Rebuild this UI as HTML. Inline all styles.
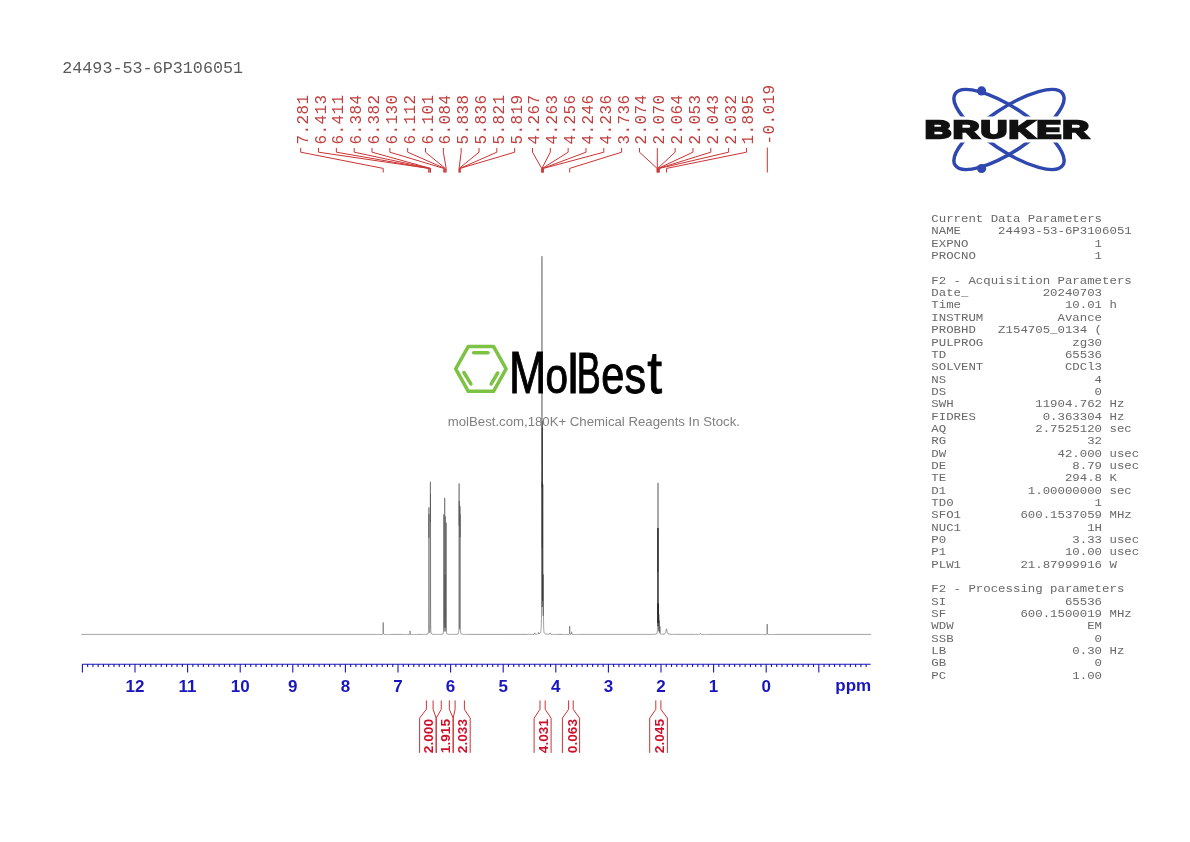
<!DOCTYPE html>
<html><head><meta charset="utf-8"><title>24493-53-6P3106051</title>
<style>
html,body{margin:0;padding:0;background:#fff;}
body{width:1190px;height:842px;overflow:hidden;position:relative;}
svg{position:absolute;left:0;top:0;will-change:transform;}
.mono{font-family:"Liberation Mono",monospace;}
.sans{font-family:"Liberation Sans",sans-serif;}
.pre{white-space:pre;}
</style></head><body>
<svg width="1190" height="842" viewBox="0 0 1190 842">

<text class="mono" x="62.2" y="73.3" font-size="16.75" fill="#5a5a5a">24493-53-6P3106051</text>
<g class="mono" font-size="16.0" fill="#c04040" letter-spacing="0.4">
<text transform="translate(307.70,144.5) rotate(-90)">7.281</text>
<text transform="translate(325.53,144.5) rotate(-90)">6.413</text>
<text transform="translate(343.36,144.5) rotate(-90)">6.411</text>
<text transform="translate(361.19,144.5) rotate(-90)">6.384</text>
<text transform="translate(379.02,144.5) rotate(-90)">6.382</text>
<text transform="translate(396.85,144.5) rotate(-90)">6.130</text>
<text transform="translate(414.68,144.5) rotate(-90)">6.112</text>
<text transform="translate(432.51,144.5) rotate(-90)">6.101</text>
<text transform="translate(450.34,144.5) rotate(-90)">6.084</text>
<text transform="translate(468.17,144.5) rotate(-90)">5.838</text>
<text transform="translate(486.00,144.5) rotate(-90)">5.836</text>
<text transform="translate(503.83,144.5) rotate(-90)">5.821</text>
<text transform="translate(521.66,144.5) rotate(-90)">5.819</text>
<text transform="translate(539.49,144.5) rotate(-90)">4.267</text>
<text transform="translate(557.32,144.5) rotate(-90)">4.263</text>
<text transform="translate(575.15,144.5) rotate(-90)">4.256</text>
<text transform="translate(592.98,144.5) rotate(-90)">4.246</text>
<text transform="translate(610.81,144.5) rotate(-90)">4.236</text>
<text transform="translate(628.64,144.5) rotate(-90)">3.736</text>
<text transform="translate(646.47,144.5) rotate(-90)">2.074</text>
<text transform="translate(664.30,144.5) rotate(-90)">2.070</text>
<text transform="translate(682.13,144.5) rotate(-90)">2.064</text>
<text transform="translate(699.96,144.5) rotate(-90)">2.053</text>
<text transform="translate(717.79,144.5) rotate(-90)">2.043</text>
<text transform="translate(735.62,144.5) rotate(-90)">2.032</text>
<text transform="translate(753.45,144.5) rotate(-90)">1.895</text>
<text transform="translate(774.30,144.5) rotate(-90)">-0.019</text>
</g>
<path d="M300.70 148V152.2L383.22 168.4V172.5 M318.53 148V152.2L428.88 168.4V172.5 M336.36 148V152.2L428.98 168.4V172.5 M354.19 148V152.2L430.40 168.4V172.5 M372.02 148V152.2L430.51 168.4V172.5 M389.85 148V152.2L443.76 168.4V172.5 M407.68 148V152.2L444.71 168.4V172.5 M425.51 148V152.2L445.29 168.4V172.5 M443.34 148V152.2L446.18 168.4V172.5 M461.17 148V152.2L459.12 168.4V172.5 M479.00 148V152.2L459.23 168.4V172.5 M496.83 148V152.2L460.02 168.4V172.5 M514.66 148V152.2L460.12 168.4V172.5 M532.49 148V152.2L541.76 168.4V172.5 M550.32 148V152.2L541.97 168.4V172.5 M568.15 148V152.2L542.33 168.4V172.5 M585.98 148V152.2L542.86 168.4V172.5 M603.81 148V152.2L543.39 168.4V172.5 M621.64 148V152.2L569.69 168.4V172.5 M639.47 148V152.2L657.11 168.4V172.5 M657.30 148V152.2L657.32 168.4V172.5 M675.13 148V152.2L657.63 168.4V172.5 M692.96 148V152.2L658.21 168.4V172.5 M710.79 148V152.2L658.74 168.4V172.5 M728.62 148V152.2L659.32 168.4V172.5 M746.45 148V152.2L666.52 168.4V172.5 M767.3 147.6V172.5" fill="none" stroke="#cc3333" stroke-width="1"/>
<path d="M81.300 634.40 L82.300 634.40 L83.300 634.40 L84.300 634.40 L85.300 634.40 L86.300 634.40 L87.300 634.40 L88.300 634.40 L89.300 634.40 L90.300 634.40 L91.300 634.40 L92.300 634.40 L93.300 634.40 L94.300 634.40 L95.300 634.40 L96.300 634.40 L97.300 634.40 L98.300 634.40 L99.300 634.40 L100.300 634.40 L101.300 634.40 L102.300 634.40 L103.300 634.40 L104.300 634.40 L105.300 634.40 L106.300 634.40 L107.300 634.40 L108.300 634.40 L109.300 634.40 L110.300 634.40 L111.300 634.40 L112.300 634.40 L113.300 634.40 L114.300 634.40 L115.300 634.40 L116.300 634.40 L117.300 634.40 L118.300 634.40 L119.300 634.40 L120.300 634.40 L121.300 634.40 L122.300 634.40 L123.300 634.40 L124.300 634.40 L125.300 634.40 L126.300 634.40 L127.300 634.40 L128.300 634.40 L129.300 634.40 L130.300 634.40 L131.300 634.40 L132.300 634.40 L133.300 634.40 L134.300 634.40 L135.300 634.40 L136.300 634.40 L137.300 634.40 L138.300 634.40 L139.300 634.40 L140.300 634.40 L141.300 634.40 L142.300 634.40 L143.300 634.40 L144.300 634.40 L145.300 634.40 L146.300 634.40 L147.300 634.40 L148.300 634.40 L149.300 634.40 L150.300 634.40 L151.300 634.40 L152.300 634.40 L153.300 634.40 L154.300 634.40 L155.300 634.40 L156.300 634.40 L157.300 634.40 L158.300 634.40 L159.300 634.40 L160.300 634.40 L161.300 634.40 L162.300 634.40 L163.300 634.40 L164.300 634.40 L165.300 634.40 L166.300 634.40 L167.300 634.40 L168.300 634.40 L169.300 634.40 L170.300 634.40 L171.300 634.40 L172.300 634.40 L173.300 634.40 L174.300 634.40 L175.300 634.40 L176.300 634.40 L177.300 634.40 L178.300 634.40 L179.300 634.40 L180.300 634.40 L181.300 634.40 L182.300 634.40 L183.300 634.40 L184.300 634.40 L185.300 634.40 L186.300 634.40 L187.300 634.40 L188.300 634.40 L189.300 634.40 L190.300 634.40 L191.300 634.40 L192.300 634.40 L193.300 634.40 L194.300 634.40 L195.300 634.40 L196.300 634.40 L197.300 634.40 L198.300 634.40 L199.300 634.40 L200.300 634.40 L201.300 634.40 L202.300 634.40 L203.300 634.40 L204.300 634.40 L205.300 634.40 L206.300 634.40 L207.300 634.40 L208.300 634.40 L209.300 634.40 L210.300 634.40 L211.300 634.40 L212.300 634.40 L213.300 634.40 L214.300 634.40 L215.300 634.40 L216.300 634.40 L217.300 634.40 L218.300 634.40 L219.300 634.40 L220.300 634.40 L221.300 634.40 L222.300 634.40 L223.300 634.40 L224.300 634.40 L225.300 634.40 L226.300 634.40 L227.300 634.40 L228.300 634.40 L229.300 634.40 L230.300 634.40 L231.300 634.40 L232.300 634.40 L233.300 634.40 L234.300 634.40 L235.300 634.40 L236.300 634.40 L237.300 634.40 L238.300 634.40 L239.300 634.40 L240.300 634.40 L241.300 634.40 L242.300 634.40 L243.300 634.40 L244.300 634.40 L245.300 634.40 L246.300 634.40 L247.300 634.40 L248.300 634.40 L249.300 634.40 L250.300 634.40 L251.300 634.40 L252.300 634.40 L253.300 634.40 L254.300 634.40 L255.300 634.40 L256.300 634.40 L257.300 634.40 L258.300 634.40 L259.300 634.40 L260.300 634.40 L261.300 634.40 L262.300 634.40 L263.300 634.40 L264.300 634.40 L265.300 634.40 L266.300 634.40 L267.300 634.40 L268.300 634.40 L269.300 634.40 L270.300 634.40 L271.300 634.40 L272.300 634.40 L273.300 634.40 L274.300 634.40 L275.300 634.40 L276.300 634.40 L277.300 634.40 L278.300 634.40 L279.300 634.40 L280.300 634.40 L281.300 634.40 L282.300 634.40 L283.300 634.40 L284.300 634.40 L285.300 634.40 L286.300 634.40 L287.300 634.40 L288.300 634.40 L289.300 634.40 L290.300 634.40 L291.300 634.40 L292.300 634.40 L293.300 634.40 L294.300 634.40 L295.300 634.40 L296.300 634.40 L297.300 634.40 L298.300 634.40 L299.300 634.40 L300.300 634.40 L301.300 634.40 L302.300 634.40 L303.300 634.40 L304.300 634.40 L305.300 634.40 L306.300 634.40 L307.300 634.40 L308.300 634.40 L309.300 634.40 L310.300 634.40 L311.300 634.40 L312.300 634.40 L313.300 634.40 L314.300 634.40 L315.300 634.40 L316.300 634.40 L317.300 634.40 L318.300 634.40 L319.300 634.40 L320.300 634.40 L321.300 634.40 L322.300 634.40 L323.300 634.40 L324.300 634.40 L325.300 634.40 L326.300 634.40 L327.300 634.40 L328.300 634.40 L329.300 634.40 L330.300 634.40 L331.300 634.40 L332.300 634.40 L333.300 634.40 L334.300 634.40 L335.300 634.40 L336.300 634.40 L337.300 634.40 L338.300 634.40 L339.300 634.40 L340.300 634.40 L341.300 634.40 L342.300 634.40 L343.300 634.40 L344.300 634.40 L345.300 634.40 L346.300 634.40 L347.300 634.40 L348.300 634.40 L349.300 634.40 L350.300 634.40 L351.300 634.40 L352.300 634.40 L353.300 634.40 L354.300 634.40 L355.300 634.40 L356.300 634.40 L357.300 634.40 L358.300 634.40 L359.300 634.40 L360.300 634.40 L361.300 634.40 L362.300 634.40 L363.300 634.40 L364.300 634.40 L365.300 634.40 L366.300 634.40 L367.300 634.40 L368.300 634.40 L369.300 634.40 L370.300 634.40 L371.300 634.40 L372.300 634.40 L373.300 634.40 L374.300 634.40 L375.300 634.40 L376.300 634.40 L376.400 634.40 L376.500 634.40 L376.600 634.40 L376.700 634.40 L376.800 634.40 L376.900 634.40 L377.000 634.40 L377.100 634.40 L377.200 634.40 L377.300 634.40 L377.400 634.40 L377.500 634.40 L377.600 634.40 L377.700 634.40 L377.800 634.40 L377.900 634.40 L378.000 634.40 L378.100 634.40 L378.200 634.40 L378.300 634.40 L378.400 634.40 L378.500 634.40 L378.600 634.40 L378.700 634.40 L378.800 634.40 L378.900 634.40 L379.000 634.40 L379.100 634.40 L379.200 634.40 L379.300 634.40 L379.400 634.40 L379.500 634.40 L379.600 634.40 L379.700 634.40 L379.800 634.39 L379.900 634.39 L380.000 634.39 L380.100 634.39 L380.200 634.39 L380.300 634.39 L380.400 634.39 L380.500 634.39 L380.600 634.39 L380.700 634.39 L380.800 634.39 L380.900 634.39 L381.000 634.39 L381.100 634.39 L381.200 634.39 L381.300 634.39 L381.400 634.38 L381.500 634.38 L381.600 634.38 L381.700 634.38 L381.720 634.38 L381.740 634.38 L381.760 634.38 L381.780 634.38 L381.800 634.38 L381.820 634.37 L381.840 634.37 L381.860 634.37 L381.880 634.37 L381.900 634.37 L381.920 634.37 L381.940 634.37 L381.960 634.37 L381.980 634.37 L382.000 634.37 L382.020 634.37 L382.040 634.36 L382.060 634.36 L382.080 634.36 L382.100 634.36 L382.120 634.36 L382.140 634.36 L382.160 634.36 L382.180 634.35 L382.200 634.35 L382.220 634.35 L382.240 634.35 L382.260 634.35 L382.280 634.34 L382.300 634.34 L382.320 634.34 L382.340 634.34 L382.360 634.33 L382.380 634.33 L382.400 634.33 L382.420 634.32 L382.440 634.32 L382.460 634.32 L382.480 634.31 L382.500 634.31 L382.520 634.30 L382.540 634.30 L382.560 634.29 L382.580 634.28 L382.600 634.28 L382.620 634.27 L382.640 634.26 L382.660 634.25 L382.680 634.24 L382.700 634.22 L382.720 634.21 L382.740 634.19 L382.760 634.18 L382.780 634.16 L382.800 634.13 L382.820 634.11 L382.840 634.08 L382.860 634.04 L382.880 634.00 L382.900 633.95 L382.920 633.89 L382.940 633.82 L382.960 633.73 L382.980 633.62 L383.000 633.48 L383.020 633.31 L383.040 633.08 L383.060 632.77 L383.080 632.36 L383.100 631.78 L383.120 630.95 L383.140 629.75 L383.160 628.04 L383.180 625.76 L383.200 623.44 L383.219 622.40 L383.220 622.40 L383.240 623.55 L383.260 625.91 L383.280 628.16 L383.300 629.84 L383.320 631.01 L383.340 631.82 L383.360 632.39 L383.380 632.79 L383.400 633.09 L383.420 633.32 L383.440 633.49 L383.460 633.63 L383.480 633.73 L383.500 633.82 L383.520 633.89 L383.540 633.95 L383.560 634.00 L383.580 634.04 L383.600 634.08 L383.620 634.11 L383.640 634.13 L383.660 634.16 L383.680 634.18 L383.700 634.20 L383.720 634.21 L383.740 634.22 L383.760 634.24 L383.780 634.25 L383.800 634.26 L383.820 634.27 L383.840 634.28 L383.860 634.28 L383.880 634.29 L383.900 634.30 L383.920 634.30 L383.940 634.31 L383.960 634.31 L383.980 634.32 L384.000 634.32 L384.020 634.32 L384.040 634.33 L384.060 634.33 L384.080 634.33 L384.100 634.34 L384.120 634.34 L384.140 634.34 L384.160 634.34 L384.180 634.35 L384.200 634.35 L384.220 634.35 L384.240 634.35 L384.260 634.35 L384.280 634.36 L384.300 634.36 L384.320 634.36 L384.340 634.36 L384.360 634.36 L384.380 634.36 L384.400 634.36 L384.420 634.37 L384.440 634.37 L384.460 634.37 L384.480 634.37 L384.500 634.37 L384.520 634.37 L384.540 634.37 L384.560 634.37 L384.580 634.37 L384.600 634.37 L384.620 634.37 L384.640 634.38 L384.660 634.38 L384.680 634.38 L384.700 634.38 L384.720 634.38 L384.740 634.38 L384.760 634.38 L384.780 634.38 L384.800 634.38 L384.900 634.38 L385.000 634.38 L385.100 634.39 L385.200 634.39 L385.300 634.39 L385.400 634.39 L385.500 634.39 L385.600 634.39 L385.700 634.39 L385.800 634.39 L385.900 634.39 L386.000 634.39 L386.100 634.39 L386.200 634.39 L386.300 634.39 L386.400 634.39 L386.500 634.39 L386.600 634.39 L386.700 634.39 L386.800 634.39 L386.900 634.40 L387.000 634.40 L387.100 634.40 L387.200 634.40 L387.300 634.40 L387.400 634.40 L387.500 634.40 L387.600 634.40 L387.700 634.40 L387.800 634.40 L387.900 634.40 L388.000 634.40 L388.100 634.40 L388.200 634.40 L388.300 634.40 L388.400 634.40 L388.500 634.40 L388.600 634.40 L388.700 634.40 L388.800 634.40 L388.900 634.40 L389.000 634.40 L389.100 634.40 L389.200 634.40 L389.300 634.40 L389.400 634.40 L389.500 634.40 L389.600 634.40 L389.700 634.40 L389.800 634.40 L389.900 634.40 L390.000 634.40 L390.100 634.40 L390.200 634.40 L390.300 634.40 L390.400 634.40 L390.500 634.40 L390.600 634.40 L390.700 634.40 L390.800 634.40 L390.900 634.40 L391.000 634.40 L391.100 634.40 L391.200 634.40 L392.200 634.40 L393.200 634.40 L394.200 634.40 L395.200 634.40 L396.200 634.40 L397.200 634.40 L398.200 634.40 L399.200 634.40 L400.200 634.40 L401.200 634.40 L402.200 634.40 L403.200 634.40 L403.300 634.40 L403.400 634.40 L403.500 634.40 L403.600 634.40 L403.700 634.40 L403.800 634.40 L403.900 634.40 L404.000 634.40 L404.100 634.40 L404.200 634.40 L404.300 634.40 L404.400 634.40 L404.500 634.40 L404.600 634.40 L404.700 634.40 L404.800 634.40 L404.900 634.40 L405.000 634.40 L405.100 634.40 L405.200 634.40 L405.300 634.40 L405.400 634.40 L405.500 634.40 L405.600 634.40 L405.700 634.40 L405.800 634.40 L405.900 634.40 L406.000 634.40 L406.100 634.40 L406.200 634.40 L406.300 634.40 L406.400 634.39 L406.500 634.39 L406.600 634.39 L406.700 634.39 L406.800 634.39 L406.900 634.39 L407.000 634.39 L407.100 634.39 L407.200 634.39 L407.300 634.39 L407.400 634.39 L407.500 634.39 L407.600 634.39 L407.700 634.39 L407.800 634.39 L407.900 634.39 L408.000 634.39 L408.100 634.39 L408.200 634.39 L408.300 634.39 L408.400 634.39 L408.500 634.39 L408.600 634.39 L408.620 634.39 L408.640 634.39 L408.660 634.39 L408.680 634.39 L408.700 634.38 L408.720 634.38 L408.740 634.38 L408.760 634.38 L408.780 634.38 L408.800 634.38 L408.820 634.38 L408.840 634.38 L408.860 634.38 L408.880 634.38 L408.900 634.38 L408.920 634.38 L408.940 634.38 L408.960 634.38 L408.980 634.38 L409.000 634.38 L409.020 634.38 L409.040 634.38 L409.060 634.38 L409.080 634.38 L409.100 634.37 L409.120 634.37 L409.140 634.37 L409.160 634.37 L409.180 634.37 L409.200 634.37 L409.220 634.37 L409.240 634.37 L409.260 634.37 L409.280 634.36 L409.300 634.36 L409.320 634.36 L409.340 634.36 L409.360 634.36 L409.380 634.35 L409.400 634.35 L409.420 634.35 L409.440 634.35 L409.460 634.34 L409.480 634.34 L409.500 634.34 L409.520 634.33 L409.540 634.33 L409.560 634.32 L409.580 634.32 L409.600 634.31 L409.620 634.30 L409.640 634.29 L409.660 634.29 L409.680 634.28 L409.700 634.26 L409.720 634.25 L409.740 634.23 L409.760 634.22 L409.780 634.19 L409.800 634.17 L409.820 634.14 L409.840 634.10 L409.860 634.05 L409.880 633.99 L409.900 633.92 L409.920 633.82 L409.940 633.70 L409.960 633.53 L409.980 633.32 L410.000 633.02 L410.020 632.63 L410.040 632.13 L410.060 631.56 L410.080 631.07 L410.098 630.90 L410.100 630.90 L410.120 631.15 L410.140 631.67 L410.160 632.23 L410.180 632.72 L410.200 633.09 L410.220 633.36 L410.240 633.57 L410.260 633.73 L410.280 633.84 L410.300 633.93 L410.320 634.00 L410.340 634.06 L410.360 634.10 L410.380 634.14 L410.400 634.17 L410.420 634.20 L410.440 634.22 L410.460 634.24 L410.480 634.25 L410.500 634.27 L410.520 634.28 L410.540 634.29 L410.560 634.30 L410.580 634.30 L410.600 634.31 L410.620 634.32 L410.640 634.32 L410.660 634.33 L410.680 634.33 L410.700 634.34 L410.720 634.34 L410.740 634.34 L410.760 634.35 L410.780 634.35 L410.800 634.35 L410.820 634.35 L410.840 634.36 L410.860 634.36 L410.880 634.36 L410.900 634.36 L410.920 634.36 L410.940 634.36 L410.960 634.37 L410.980 634.37 L411.000 634.37 L411.020 634.37 L411.040 634.37 L411.060 634.37 L411.080 634.37 L411.100 634.37 L411.120 634.37 L411.140 634.38 L411.160 634.38 L411.180 634.38 L411.200 634.38 L411.220 634.38 L411.240 634.38 L411.260 634.38 L411.280 634.38 L411.300 634.38 L411.320 634.38 L411.340 634.38 L411.360 634.38 L411.380 634.38 L411.400 634.38 L411.420 634.38 L411.440 634.38 L411.460 634.38 L411.480 634.38 L411.500 634.38 L411.520 634.38 L411.540 634.38 L411.560 634.38 L411.580 634.39 L411.600 634.39 L411.620 634.39 L411.640 634.39 L411.660 634.39 L411.680 634.39 L411.780 634.39 L411.880 634.39 L411.980 634.39 L412.080 634.39 L412.180 634.39 L412.280 634.39 L412.380 634.39 L412.480 634.39 L412.580 634.39 L412.680 634.39 L412.780 634.39 L412.880 634.39 L412.980 634.39 L413.080 634.39 L413.180 634.39 L413.280 634.39 L413.380 634.39 L413.480 634.39 L413.580 634.39 L413.680 634.39 L413.780 634.39 L413.880 634.39 L413.980 634.39 L414.080 634.39 L414.180 634.39 L414.280 634.39 L414.380 634.39 L414.480 634.39 L414.580 634.39 L414.680 634.39 L414.780 634.39 L414.880 634.39 L414.980 634.39 L415.080 634.39 L415.180 634.39 L415.280 634.39 L415.380 634.39 L415.480 634.39 L415.580 634.39 L415.680 634.39 L415.780 634.39 L415.880 634.39 L415.980 634.39 L416.080 634.39 L416.180 634.39 L416.280 634.39 L416.380 634.39 L416.480 634.39 L416.580 634.39 L416.680 634.39 L416.780 634.39 L416.880 634.39 L416.980 634.39 L417.080 634.39 L417.180 634.39 L417.280 634.39 L417.380 634.39 L417.480 634.39 L417.580 634.39 L417.680 634.39 L417.780 634.39 L417.880 634.39 L417.980 634.39 L418.080 634.39 L419.080 634.39 L420.080 634.39 L421.080 634.38 L421.180 634.38 L421.280 634.38 L421.380 634.38 L421.480 634.38 L421.580 634.38 L421.680 634.38 L421.780 634.38 L421.880 634.38 L421.980 634.38 L422.080 634.38 L422.180 634.38 L422.280 634.38 L422.380 634.38 L422.480 634.38 L422.580 634.38 L422.680 634.38 L422.780 634.37 L422.880 634.37 L422.980 634.37 L423.080 634.37 L423.180 634.37 L423.280 634.37 L423.380 634.37 L423.480 634.37 L423.580 634.37 L423.680 634.37 L423.780 634.37 L423.880 634.36 L423.980 634.36 L424.080 634.36 L424.180 634.36 L424.280 634.36 L424.380 634.36 L424.480 634.36 L424.580 634.35 L424.680 634.35 L424.780 634.35 L424.880 634.35 L424.980 634.35 L425.080 634.34 L425.180 634.34 L425.280 634.34 L425.380 634.34 L425.480 634.33 L425.580 634.33 L425.680 634.33 L425.780 634.32 L425.880 634.32 L425.980 634.31 L426.080 634.31 L426.180 634.30 L426.280 634.30 L426.380 634.29 L426.480 634.28 L426.580 634.27 L426.680 634.26 L426.780 634.25 L426.880 634.24 L426.980 634.22 L427.080 634.21 L427.180 634.19 L427.280 634.16 L427.380 634.14 L427.400 634.13 L427.420 634.13 L427.440 634.12 L427.460 634.11 L427.480 634.11 L427.500 634.10 L427.520 634.09 L427.540 634.08 L427.560 634.07 L427.580 634.07 L427.600 634.06 L427.620 634.05 L427.640 634.04 L427.660 634.03 L427.680 634.02 L427.700 634.01 L427.720 633.99 L427.740 633.98 L427.760 633.97 L427.780 633.96 L427.800 633.94 L427.820 633.93 L427.840 633.91 L427.860 633.89 L427.880 633.88 L427.900 633.86 L427.920 633.84 L427.940 633.82 L427.960 633.80 L427.980 633.77 L428.000 633.75 L428.020 633.72 L428.040 633.69 L428.060 633.66 L428.080 633.63 L428.100 633.60 L428.120 633.56 L428.140 633.52 L428.160 633.48 L428.180 633.43 L428.200 633.38 L428.220 633.33 L428.240 633.27 L428.260 633.20 L428.280 633.13 L428.300 633.05 L428.320 632.97 L428.340 632.87 L428.360 632.77 L428.380 632.65 L428.400 632.52 L428.420 632.38 L428.440 632.21 L428.460 632.03 L428.480 631.82 L428.500 631.57 L428.520 631.29 L428.540 630.96 L428.560 630.58 L428.580 630.12 L428.600 629.57 L428.620 628.91 L428.640 628.09 L428.660 627.07 L428.680 625.76 L428.700 624.06 L428.720 621.79 L428.740 618.67 L428.760 614.21 L428.780 607.58 L428.800 597.29 L428.820 580.79 L428.840 554.99 L428.860 522.95 L428.876 507.86 L428.880 507.43 L428.900 521.30 L428.920 537.49 L428.940 537.92 L428.960 523.56 L428.980 514.08 L428.981 514.29 L429.000 532.41 L429.020 562.57 L429.040 585.67 L429.060 600.33 L429.080 609.52 L429.100 615.48 L429.120 619.52 L429.140 622.37 L429.160 624.45 L429.180 626.01 L429.200 627.21 L429.220 628.15 L429.240 628.90 L429.260 629.52 L429.280 630.02 L429.300 630.43 L429.320 630.78 L429.340 631.07 L429.360 631.32 L429.380 631.54 L429.400 631.72 L429.420 631.87 L429.440 632.01 L429.460 632.12 L429.480 632.22 L429.500 632.31 L429.520 632.38 L429.540 632.44 L429.560 632.49 L429.580 632.53 L429.600 632.56 L429.620 632.58 L429.640 632.59 L429.660 632.60 L429.680 632.60 L429.700 632.59 L429.720 632.58 L429.740 632.55 L429.760 632.52 L429.780 632.48 L429.800 632.43 L429.820 632.37 L429.840 632.30 L429.860 632.22 L429.880 632.12 L429.900 632.01 L429.920 631.88 L429.940 631.74 L429.960 631.57 L429.980 631.37 L430.000 631.15 L430.020 630.89 L430.040 630.58 L430.060 630.22 L430.080 629.80 L430.100 629.29 L430.120 628.68 L430.140 627.94 L430.160 627.03 L430.180 625.89 L430.200 624.44 L430.220 622.56 L430.240 620.05 L430.260 616.63 L430.280 611.78 L430.300 604.64 L430.320 593.67 L430.340 576.17 L430.360 548.28 L430.380 510.05 L430.400 482.44 L430.402 481.68 L430.420 492.06 L430.440 514.94 L430.460 522.20 L430.480 509.81 L430.500 494.18 L430.507 494.47 L430.520 506.93 L430.540 541.58 L430.560 571.43 L430.580 590.85 L430.600 602.99 L430.620 610.79 L430.640 616.03 L430.660 619.69 L430.680 622.35 L430.700 624.33 L430.720 625.86 L430.740 627.05 L430.760 628.01 L430.780 628.79 L430.800 629.43 L430.820 629.96 L430.840 630.41 L430.860 630.79 L430.880 631.12 L430.900 631.41 L430.920 631.66 L430.940 631.87 L430.960 632.06 L430.980 632.23 L431.000 632.39 L431.020 632.52 L431.040 632.64 L431.060 632.75 L431.080 632.85 L431.100 632.94 L431.120 633.02 L431.140 633.10 L431.160 633.17 L431.180 633.23 L431.200 633.29 L431.220 633.35 L431.240 633.39 L431.260 633.44 L431.280 633.48 L431.300 633.52 L431.320 633.56 L431.340 633.60 L431.360 633.63 L431.380 633.66 L431.400 633.69 L431.420 633.72 L431.440 633.74 L431.460 633.76 L431.480 633.79 L431.500 633.81 L431.520 633.83 L431.540 633.85 L431.560 633.87 L431.580 633.88 L431.600 633.90 L431.620 633.91 L431.640 633.93 L431.660 633.94 L431.680 633.96 L431.700 633.97 L431.720 633.98 L431.740 633.99 L431.760 634.00 L431.780 634.02 L431.800 634.03 L431.820 634.04 L431.840 634.04 L431.860 634.05 L431.880 634.06 L431.900 634.07 L431.920 634.08 L431.940 634.09 L431.960 634.09 L431.980 634.10 L432.000 634.11 L432.020 634.11 L432.040 634.12 L432.060 634.13 L432.080 634.13 L432.100 634.14 L432.200 634.16 L432.300 634.19 L432.400 634.20 L432.500 634.22 L432.600 634.23 L432.700 634.25 L432.800 634.26 L432.900 634.27 L433.000 634.28 L433.100 634.28 L433.200 634.29 L433.300 634.30 L433.400 634.30 L433.500 634.31 L433.600 634.31 L433.700 634.32 L433.800 634.32 L433.900 634.32 L434.000 634.33 L434.100 634.33 L434.200 634.33 L434.300 634.33 L434.400 634.34 L434.500 634.34 L434.600 634.34 L434.700 634.34 L434.800 634.34 L434.900 634.35 L435.000 634.35 L435.100 634.35 L435.200 634.35 L435.300 634.35 L435.400 634.35 L435.500 634.35 L435.600 634.35 L435.700 634.35 L435.800 634.35 L435.900 634.36 L436.000 634.36 L436.100 634.36 L436.200 634.36 L436.300 634.36 L436.400 634.36 L436.500 634.36 L436.600 634.36 L436.700 634.36 L436.800 634.36 L436.900 634.36 L437.000 634.36 L437.100 634.36 L437.200 634.36 L437.300 634.36 L437.400 634.36 L437.500 634.36 L437.600 634.36 L437.700 634.36 L437.800 634.36 L437.900 634.36 L438.000 634.36 L438.100 634.36 L438.200 634.36 L438.300 634.36 L438.400 634.36 L438.500 634.36 L438.600 634.36 L438.700 634.35 L438.800 634.35 L438.900 634.35 L439.000 634.35 L439.100 634.35 L439.200 634.35 L439.300 634.35 L439.400 634.35 L439.500 634.35 L439.600 634.35 L439.700 634.34 L439.800 634.34 L439.900 634.34 L440.000 634.34 L440.100 634.34 L440.200 634.33 L440.300 634.33 L440.400 634.33 L440.500 634.33 L440.600 634.32 L440.700 634.32 L440.800 634.32 L440.900 634.31 L441.000 634.31 L441.100 634.30 L441.200 634.30 L441.300 634.29 L441.400 634.28 L441.500 634.28 L441.600 634.27 L441.700 634.26 L441.800 634.25 L441.900 634.24 L442.000 634.22 L442.100 634.21 L442.200 634.19 L442.220 634.18 L442.240 634.18 L442.260 634.18 L442.280 634.17 L442.300 634.17 L442.320 634.16 L442.340 634.16 L442.360 634.15 L442.380 634.15 L442.400 634.14 L442.420 634.13 L442.440 634.13 L442.460 634.12 L442.480 634.11 L442.500 634.11 L442.520 634.10 L442.540 634.09 L442.560 634.08 L442.580 634.08 L442.600 634.07 L442.620 634.06 L442.640 634.05 L442.660 634.04 L442.680 634.03 L442.700 634.02 L442.720 634.01 L442.740 633.99 L442.760 633.98 L442.780 633.97 L442.800 633.95 L442.820 633.94 L442.840 633.92 L442.860 633.91 L442.880 633.89 L442.900 633.87 L442.920 633.85 L442.940 633.83 L442.960 633.80 L442.980 633.78 L443.000 633.75 L443.020 633.72 L443.040 633.69 L443.060 633.66 L443.080 633.62 L443.100 633.58 L443.120 633.54 L443.140 633.49 L443.160 633.44 L443.180 633.39 L443.200 633.33 L443.220 633.26 L443.240 633.18 L443.260 633.10 L443.280 633.01 L443.300 632.90 L443.320 632.78 L443.340 632.64 L443.360 632.49 L443.380 632.31 L443.400 632.10 L443.420 631.85 L443.440 631.56 L443.460 631.22 L443.480 630.80 L443.500 630.29 L443.520 629.65 L443.540 628.85 L443.560 627.82 L443.580 626.45 L443.600 624.61 L443.620 622.05 L443.640 618.35 L443.660 612.80 L443.680 604.09 L443.700 589.94 L443.720 567.07 L443.740 535.64 L443.760 514.61 L443.762 514.40 L443.780 529.48 L443.800 561.19 L443.820 586.06 L443.840 601.65 L443.860 611.19 L443.880 617.20 L443.900 621.16 L443.920 623.87 L443.940 625.79 L443.960 627.19 L443.980 628.24 L444.000 629.03 L444.020 629.65 L444.040 630.13 L444.060 630.50 L444.080 630.80 L444.100 631.03 L444.120 631.22 L444.140 631.36 L444.160 631.46 L444.180 631.53 L444.200 631.56 L444.220 631.57 L444.240 631.56 L444.260 631.52 L444.280 631.44 L444.300 631.34 L444.320 631.21 L444.340 631.03 L444.360 630.82 L444.380 630.55 L444.400 630.22 L444.420 629.81 L444.440 629.29 L444.460 628.65 L444.480 627.83 L444.500 626.77 L444.520 625.38 L444.540 623.52 L444.560 620.94 L444.580 617.26 L444.600 611.81 L444.620 603.38 L444.640 589.81 L444.660 567.65 L444.680 534.43 L444.700 502.34 L444.709 497.80 L444.720 504.95 L444.740 538.73 L444.760 570.66 L444.780 591.49 L444.800 604.18 L444.820 612.06 L444.840 617.13 L444.860 620.52 L444.880 622.86 L444.900 624.49 L444.920 625.65 L444.940 626.46 L444.960 627.00 L444.980 627.33 L445.000 627.47 L445.020 627.43 L445.040 627.20 L445.060 626.77 L445.080 626.09 L445.100 625.08 L445.120 623.61 L445.140 621.50 L445.160 618.39 L445.180 613.68 L445.200 606.29 L445.220 594.30 L445.240 574.66 L445.260 545.60 L445.280 519.16 L445.287 516.41 L445.300 524.15 L445.320 554.00 L445.340 580.97 L445.360 598.40 L445.380 609.06 L445.400 615.73 L445.420 620.08 L445.440 623.04 L445.460 625.12 L445.480 626.64 L445.500 627.77 L445.520 628.64 L445.540 629.31 L445.560 629.83 L445.580 630.25 L445.600 630.58 L445.620 630.85 L445.640 631.06 L445.660 631.22 L445.680 631.34 L445.700 631.43 L445.720 631.49 L445.740 631.51 L445.760 631.51 L445.780 631.47 L445.800 631.40 L445.820 631.29 L445.840 631.15 L445.860 630.95 L445.880 630.70 L445.900 630.37 L445.920 629.95 L445.940 629.41 L445.960 628.71 L445.980 627.80 L446.000 626.57 L446.020 624.89 L446.040 622.53 L446.060 619.10 L446.080 613.93 L446.100 605.79 L446.120 592.53 L446.140 571.10 L446.160 541.84 L446.180 522.83 L446.182 522.71 L446.200 537.31 L446.220 566.86 L446.240 589.84 L446.260 604.24 L446.280 613.06 L446.300 618.65 L446.320 622.34 L446.340 624.88 L446.360 626.70 L446.380 628.03 L446.400 629.05 L446.420 629.83 L446.440 630.44 L446.460 630.94 L446.480 631.34 L446.500 631.68 L446.520 631.96 L446.540 632.19 L446.560 632.39 L446.580 632.57 L446.600 632.71 L446.620 632.85 L446.640 632.96 L446.660 633.06 L446.680 633.15 L446.700 633.23 L446.720 633.30 L446.740 633.37 L446.760 633.43 L446.780 633.48 L446.800 633.53 L446.820 633.57 L446.840 633.61 L446.860 633.65 L446.880 633.69 L446.900 633.72 L446.920 633.75 L446.940 633.77 L446.960 633.80 L446.980 633.82 L447.000 633.85 L447.020 633.87 L447.040 633.89 L447.060 633.90 L447.080 633.92 L447.100 633.94 L447.120 633.95 L447.140 633.97 L447.160 633.98 L447.180 633.99 L447.200 634.01 L447.220 634.02 L447.240 634.03 L447.260 634.04 L447.280 634.05 L447.300 634.06 L447.320 634.07 L447.340 634.08 L447.360 634.09 L447.380 634.09 L447.400 634.10 L447.420 634.11 L447.440 634.12 L447.460 634.12 L447.480 634.13 L447.500 634.13 L447.520 634.14 L447.540 634.15 L447.560 634.15 L447.580 634.16 L447.600 634.16 L447.620 634.17 L447.640 634.17 L447.660 634.18 L447.680 634.18 L447.700 634.18 L447.720 634.19 L447.740 634.19 L447.760 634.20 L447.860 634.21 L447.960 634.23 L448.060 634.24 L448.160 634.25 L448.260 634.26 L448.360 634.27 L448.460 634.28 L448.560 634.29 L448.660 634.29 L448.760 634.30 L448.860 634.30 L448.960 634.31 L449.060 634.31 L449.160 634.32 L449.260 634.32 L449.360 634.32 L449.460 634.33 L449.560 634.33 L449.660 634.33 L449.760 634.33 L449.860 634.34 L449.960 634.34 L450.060 634.34 L450.160 634.34 L450.260 634.34 L450.360 634.34 L450.460 634.35 L450.560 634.35 L450.660 634.35 L450.760 634.35 L450.860 634.35 L450.960 634.35 L451.060 634.35 L451.160 634.35 L451.260 634.35 L451.360 634.35 L451.460 634.35 L451.560 634.36 L451.660 634.36 L451.760 634.36 L451.860 634.36 L451.960 634.36 L452.060 634.36 L452.160 634.36 L452.260 634.36 L452.360 634.36 L452.460 634.36 L452.560 634.36 L452.660 634.36 L452.760 634.36 L452.860 634.36 L452.960 634.36 L453.060 634.36 L453.160 634.36 L453.260 634.36 L453.360 634.35 L453.460 634.35 L453.560 634.35 L453.660 634.35 L453.760 634.35 L453.860 634.35 L453.960 634.35 L454.060 634.35 L454.160 634.35 L454.260 634.35 L454.360 634.35 L454.460 634.35 L454.560 634.34 L454.660 634.34 L454.760 634.34 L454.860 634.34 L454.960 634.34 L455.060 634.34 L455.160 634.33 L455.260 634.33 L455.360 634.33 L455.460 634.33 L455.560 634.32 L455.660 634.32 L455.760 634.32 L455.860 634.31 L455.960 634.31 L456.060 634.30 L456.160 634.30 L456.260 634.29 L456.360 634.29 L456.460 634.28 L456.560 634.27 L456.660 634.26 L456.760 634.25 L456.860 634.24 L456.960 634.23 L457.060 634.22 L457.160 634.20 L457.260 634.18 L457.360 634.16 L457.460 634.13 L457.560 634.11 L457.580 634.10 L457.600 634.09 L457.620 634.09 L457.640 634.08 L457.660 634.07 L457.680 634.06 L457.700 634.05 L457.720 634.05 L457.740 634.04 L457.760 634.03 L457.780 634.02 L457.800 634.01 L457.820 634.00 L457.840 633.99 L457.860 633.98 L457.880 633.96 L457.900 633.95 L457.920 633.94 L457.940 633.93 L457.960 633.91 L457.980 633.90 L458.000 633.88 L458.020 633.87 L458.040 633.85 L458.060 633.83 L458.080 633.81 L458.100 633.79 L458.120 633.77 L458.140 633.75 L458.160 633.73 L458.180 633.70 L458.200 633.67 L458.220 633.65 L458.240 633.62 L458.260 633.59 L458.280 633.55 L458.300 633.52 L458.320 633.48 L458.340 633.44 L458.360 633.39 L458.380 633.35 L458.400 633.29 L458.420 633.24 L458.440 633.18 L458.460 633.12 L458.480 633.05 L458.500 632.97 L458.520 632.89 L458.540 632.80 L458.560 632.70 L458.580 632.59 L458.600 632.47 L458.620 632.33 L458.640 632.18 L458.660 632.01 L458.680 631.82 L458.700 631.61 L458.720 631.36 L458.740 631.09 L458.760 630.76 L458.780 630.39 L458.800 629.95 L458.820 629.43 L458.840 628.81 L458.860 628.06 L458.880 627.14 L458.900 626.00 L458.920 624.54 L458.940 622.66 L458.960 620.16 L458.980 616.74 L459.000 611.90 L459.020 604.77 L459.040 593.80 L459.060 576.29 L459.080 548.42 L459.100 510.46 L459.120 483.83 L459.121 483.46 L459.140 494.47 L459.160 517.80 L459.180 525.75 L459.200 514.79 L459.220 500.97 L459.226 501.27 L459.240 513.91 L459.260 546.69 L459.280 574.60 L459.300 592.72 L459.320 604.03 L459.340 611.29 L459.360 616.16 L459.380 619.55 L459.400 621.99 L459.420 623.80 L459.440 625.17 L459.460 626.21 L459.480 627.03 L459.500 627.66 L459.520 628.15 L459.540 628.53 L459.560 628.81 L459.580 629.01 L459.600 629.14 L459.620 629.19 L459.640 629.19 L459.660 629.11 L459.680 628.96 L459.700 628.74 L459.720 628.42 L459.740 628.00 L459.760 627.44 L459.780 626.72 L459.800 625.78 L459.820 624.54 L459.840 622.90 L459.860 620.66 L459.880 617.54 L459.900 613.05 L459.920 606.32 L459.940 595.82 L459.960 578.93 L459.980 552.58 L460.000 520.44 L460.015 506.51 L460.020 506.14 L460.040 521.00 L460.060 537.09 L460.080 537.12 L460.100 522.70 L460.120 514.24 L460.121 514.52 L460.140 533.58 L460.160 563.60 L460.180 586.27 L460.200 600.64 L460.220 609.66 L460.240 615.53 L460.260 619.53 L460.280 622.36 L460.300 624.44 L460.320 626.00 L460.340 627.21 L460.360 628.17 L460.380 628.94 L460.400 629.57 L460.420 630.10 L460.440 630.54 L460.460 630.91 L460.480 631.22 L460.500 631.50 L460.520 631.74 L460.540 631.95 L460.560 632.13 L460.580 632.29 L460.600 632.44 L460.620 632.57 L460.640 632.68 L460.660 632.79 L460.680 632.88 L460.700 632.97 L460.720 633.05 L460.740 633.12 L460.760 633.19 L460.780 633.25 L460.800 633.30 L460.820 633.35 L460.840 633.40 L460.860 633.45 L460.880 633.49 L460.900 633.53 L460.920 633.56 L460.940 633.60 L460.960 633.63 L460.980 633.66 L461.000 633.69 L461.020 633.71 L461.040 633.74 L461.060 633.76 L461.080 633.78 L461.100 633.80 L461.120 633.82 L461.140 633.84 L461.160 633.86 L461.180 633.88 L461.200 633.89 L461.220 633.91 L461.240 633.92 L461.260 633.94 L461.280 633.95 L461.300 633.96 L461.320 633.97 L461.340 633.99 L461.360 634.00 L461.380 634.01 L461.400 634.02 L461.420 634.03 L461.440 634.04 L461.460 634.05 L461.480 634.06 L461.500 634.06 L461.520 634.07 L461.540 634.08 L461.560 634.09 L461.580 634.09 L461.600 634.10 L461.620 634.11 L461.640 634.11 L461.660 634.12 L461.680 634.13 L461.700 634.13 L461.800 634.16 L461.900 634.18 L462.000 634.20 L462.100 634.22 L462.200 634.23 L462.300 634.24 L462.400 634.26 L462.500 634.27 L462.600 634.27 L462.700 634.28 L462.800 634.29 L462.900 634.30 L463.000 634.30 L463.100 634.31 L463.200 634.31 L463.300 634.32 L463.400 634.32 L463.500 634.33 L463.600 634.33 L463.700 634.33 L463.800 634.34 L463.900 634.34 L464.000 634.34 L464.100 634.34 L464.200 634.35 L464.300 634.35 L464.400 634.35 L464.500 634.35 L464.600 634.35 L464.700 634.36 L464.800 634.36 L464.900 634.36 L465.000 634.36 L465.100 634.36 L465.200 634.36 L465.300 634.36 L465.400 634.36 L465.500 634.37 L465.600 634.37 L465.700 634.37 L465.800 634.37 L465.900 634.37 L466.000 634.37 L466.100 634.37 L466.200 634.37 L466.300 634.37 L466.400 634.37 L466.500 634.37 L466.600 634.37 L466.700 634.38 L466.800 634.38 L466.900 634.38 L467.000 634.38 L467.100 634.38 L467.200 634.38 L467.300 634.38 L467.400 634.38 L467.500 634.38 L467.600 634.38 L467.700 634.38 L467.800 634.38 L467.900 634.38 L468.000 634.38 L468.100 634.38 L469.100 634.39 L470.100 634.39 L471.100 634.39 L472.100 634.39 L473.100 634.39 L474.100 634.39 L475.100 634.39 L476.100 634.39 L477.100 634.39 L478.100 634.39 L479.100 634.39 L480.100 634.39 L481.100 634.40 L482.100 634.40 L483.100 634.40 L484.100 634.40 L485.100 634.40 L486.100 634.40 L487.100 634.40 L488.100 634.40 L489.100 634.40 L490.100 634.40 L491.100 634.40 L492.100 634.40 L493.100 634.40 L494.100 634.40 L495.100 634.40 L496.100 634.40 L497.100 634.40 L498.100 634.40 L499.100 634.40 L500.100 634.40 L501.100 634.40 L502.100 634.40 L503.100 634.40 L504.100 634.40 L505.100 634.39 L506.100 634.39 L507.100 634.39 L508.100 634.39 L509.100 634.39 L510.100 634.39 L511.100 634.39 L512.100 634.39 L513.100 634.39 L514.100 634.39 L515.100 634.39 L516.100 634.39 L517.100 634.39 L518.100 634.39 L519.100 634.39 L520.100 634.39 L521.100 634.39 L522.100 634.39 L523.100 634.38 L524.100 634.38 L525.100 634.38 L526.100 634.38 L527.100 634.38 L527.200 634.38 L527.300 634.37 L527.400 634.37 L527.500 634.37 L527.600 634.37 L527.700 634.37 L527.800 634.37 L527.900 634.37 L528.000 634.37 L528.100 634.37 L528.200 634.37 L528.300 634.37 L528.400 634.37 L528.500 634.37 L528.600 634.37 L528.700 634.37 L528.800 634.37 L528.900 634.37 L529.000 634.37 L529.100 634.37 L529.200 634.37 L529.300 634.37 L529.400 634.37 L529.500 634.37 L529.600 634.36 L529.700 634.36 L529.800 634.36 L529.900 634.36 L530.000 634.36 L530.100 634.36 L530.200 634.36 L530.300 634.36 L530.400 634.36 L530.500 634.36 L530.600 634.36 L530.700 634.36 L530.800 634.36 L530.900 634.36 L531.000 634.35 L531.100 634.35 L531.200 634.35 L531.300 634.35 L531.400 634.35 L531.500 634.35 L531.600 634.35 L531.700 634.35 L531.800 634.35 L531.900 634.34 L532.000 634.34 L532.100 634.34 L532.200 634.34 L532.300 634.34 L532.400 634.34 L532.500 634.34 L532.600 634.33 L532.700 634.33 L532.800 634.33 L532.900 634.33 L533.000 634.33 L533.100 634.32 L533.200 634.32 L533.220 634.32 L533.240 634.32 L533.260 634.32 L533.280 634.32 L533.300 634.32 L533.320 634.32 L533.340 634.31 L533.360 634.31 L533.380 634.31 L533.400 634.31 L533.420 634.31 L533.440 634.31 L533.460 634.31 L533.480 634.31 L533.500 634.31 L533.520 634.31 L533.540 634.31 L533.560 634.30 L533.580 634.30 L533.600 634.30 L533.620 634.30 L533.640 634.30 L533.660 634.30 L533.680 634.30 L533.700 634.30 L533.720 634.29 L533.740 634.29 L533.760 634.29 L533.780 634.29 L533.800 634.29 L533.820 634.28 L533.840 634.28 L533.860 634.28 L533.880 634.28 L533.900 634.28 L533.920 634.27 L533.940 634.27 L533.960 634.27 L533.980 634.27 L534.000 634.26 L534.020 634.26 L534.040 634.25 L534.060 634.25 L534.080 634.25 L534.100 634.24 L534.120 634.24 L534.140 634.23 L534.160 634.23 L534.180 634.22 L534.200 634.21 L534.220 634.20 L534.240 634.20 L534.260 634.19 L534.280 634.18 L534.300 634.17 L534.320 634.15 L534.340 634.14 L534.360 634.12 L534.380 634.11 L534.400 634.09 L534.420 634.06 L534.440 634.04 L534.460 634.01 L534.480 633.97 L534.500 633.93 L534.520 633.89 L534.540 633.83 L534.560 633.77 L534.580 633.70 L534.600 633.61 L534.620 633.52 L534.640 633.42 L534.660 633.30 L534.680 633.19 L534.700 633.08 L534.720 632.99 L534.740 632.92 L534.760 632.90 L534.780 632.92 L534.800 632.98 L534.820 633.08 L534.840 633.18 L534.860 633.30 L534.880 633.41 L534.900 633.51 L534.920 633.61 L534.940 633.69 L534.960 633.76 L534.980 633.82 L535.000 633.87 L535.020 633.92 L535.040 633.96 L535.060 633.99 L535.080 634.02 L535.100 634.04 L535.120 634.07 L535.140 634.08 L535.160 634.10 L535.180 634.12 L535.200 634.13 L535.220 634.14 L535.240 634.15 L535.260 634.16 L535.280 634.17 L535.300 634.18 L535.320 634.18 L535.340 634.19 L535.360 634.19 L535.380 634.20 L535.400 634.20 L535.420 634.21 L535.440 634.21 L535.460 634.21 L535.480 634.22 L535.500 634.22 L535.520 634.22 L535.540 634.22 L535.560 634.22 L535.580 634.23 L535.600 634.23 L535.620 634.23 L535.640 634.23 L535.660 634.23 L535.680 634.23 L535.700 634.23 L535.720 634.23 L535.740 634.23 L535.760 634.23 L535.780 634.23 L535.800 634.23 L535.820 634.24 L535.840 634.24 L535.860 634.24 L535.880 634.24 L535.900 634.24 L535.920 634.24 L535.940 634.24 L535.960 634.24 L535.980 634.23 L536.000 634.23 L536.020 634.23 L536.040 634.23 L536.060 634.23 L536.080 634.23 L536.100 634.23 L536.120 634.23 L536.140 634.23 L536.160 634.23 L536.180 634.23 L536.200 634.23 L536.220 634.23 L536.240 634.23 L536.260 634.23 L536.280 634.23 L536.300 634.23 L536.320 634.23 L536.340 634.22 L536.440 634.22 L536.540 634.21 L536.640 634.21 L536.740 634.20 L536.840 634.19 L536.940 634.19 L536.960 634.18 L536.980 634.18 L537.000 634.18 L537.020 634.18 L537.040 634.18 L537.060 634.17 L537.080 634.17 L537.100 634.17 L537.120 634.17 L537.140 634.17 L537.160 634.16 L537.180 634.16 L537.200 634.16 L537.220 634.16 L537.240 634.15 L537.260 634.15 L537.280 634.15 L537.300 634.15 L537.320 634.14 L537.340 634.14 L537.360 634.14 L537.380 634.13 L537.400 634.13 L537.420 634.13 L537.440 634.12 L537.460 634.12 L537.480 634.12 L537.500 634.11 L537.520 634.11 L537.540 634.11 L537.560 634.10 L537.580 634.10 L537.600 634.09 L537.620 634.09 L537.640 634.08 L537.660 634.08 L537.680 634.07 L537.700 634.07 L537.720 634.06 L537.740 634.05 L537.760 634.05 L537.780 634.04 L537.800 634.03 L537.820 634.02 L537.840 634.02 L537.860 634.01 L537.880 634.00 L537.900 633.99 L537.920 633.97 L537.940 633.96 L537.960 633.95 L537.980 633.93 L538.000 633.92 L538.020 633.90 L538.040 633.88 L538.060 633.85 L538.080 633.83 L538.100 633.80 L538.120 633.77 L538.140 633.73 L538.160 633.69 L538.180 633.64 L538.200 633.58 L538.220 633.52 L538.240 633.45 L538.260 633.36 L538.280 633.26 L538.300 633.15 L538.320 633.03 L538.340 632.90 L538.360 632.76 L538.380 632.63 L538.400 632.52 L538.420 632.44 L538.440 632.40 L538.442 632.40 L538.460 632.42 L538.480 632.48 L538.500 632.58 L538.520 632.70 L538.540 632.83 L538.560 632.96 L538.580 633.07 L538.600 633.18 L538.620 633.27 L538.640 633.35 L538.660 633.42 L538.680 633.48 L538.700 633.52 L538.720 633.57 L538.740 633.60 L538.760 633.63 L538.780 633.66 L538.800 633.68 L538.820 633.69 L538.840 633.71 L538.860 633.72 L538.880 633.73 L538.900 633.74 L538.920 633.75 L538.940 633.75 L538.960 633.76 L538.980 633.76 L539.000 633.76 L539.020 633.76 L539.040 633.76 L539.060 633.76 L539.080 633.76 L539.100 633.76 L539.120 633.76 L539.140 633.75 L539.160 633.75 L539.180 633.74 L539.200 633.74 L539.220 633.74 L539.240 633.73 L539.260 633.72 L539.280 633.72 L539.300 633.71 L539.320 633.70 L539.340 633.70 L539.360 633.69 L539.380 633.68 L539.400 633.67 L539.420 633.67 L539.440 633.66 L539.460 633.65 L539.480 633.64 L539.500 633.63 L539.520 633.62 L539.540 633.61 L539.560 633.60 L539.580 633.59 L539.600 633.57 L539.620 633.56 L539.640 633.55 L539.660 633.54 L539.680 633.52 L539.700 633.51 L539.720 633.50 L539.740 633.48 L539.760 633.47 L539.780 633.45 L539.800 633.44 L539.820 633.42 L539.840 633.41 L539.860 633.39 L539.880 633.37 L539.900 633.35 L539.920 633.33 L539.940 633.31 L539.960 633.30 L539.980 633.27 L540.000 633.25 L540.020 633.23 L540.040 633.21 L540.140 633.09 L540.240 632.94 L540.260 632.91 L540.280 632.88 L540.300 632.84 L540.320 632.81 L540.340 632.77 L540.360 632.73 L540.380 632.69 L540.400 632.65 L540.420 632.61 L540.440 632.56 L540.460 632.52 L540.480 632.47 L540.500 632.42 L540.520 632.36 L540.540 632.31 L540.560 632.25 L540.580 632.19 L540.600 632.13 L540.620 632.07 L540.640 632.00 L540.660 631.93 L540.680 631.86 L540.700 631.78 L540.720 631.70 L540.740 631.61 L540.760 631.52 L540.780 631.43 L540.800 631.33 L540.820 631.23 L540.840 631.12 L540.860 631.00 L540.880 630.88 L540.900 630.75 L540.920 630.61 L540.940 630.47 L540.960 630.31 L540.980 630.15 L541.000 629.97 L541.020 629.79 L541.040 629.59 L541.060 629.37 L541.080 629.15 L541.100 628.90 L541.120 628.64 L541.140 628.36 L541.160 628.05 L541.180 627.72 L541.200 627.36 L541.220 626.97 L541.240 626.54 L541.260 626.07 L541.280 625.56 L541.300 624.99 L541.320 624.36 L541.340 623.66 L541.360 622.88 L541.380 622.01 L541.400 621.02 L541.420 619.90 L541.440 618.62 L541.460 617.14 L541.480 615.42 L541.500 613.41 L541.520 611.02 L541.540 608.16 L541.560 604.68 L541.580 600.40 L541.600 595.02 L541.620 588.18 L541.640 579.35 L541.660 567.82 L541.680 552.86 L541.700 534.14 L541.720 512.95 L541.740 493.80 L541.756 484.32 L541.760 483.06 L541.780 482.52 L541.800 486.49 L541.820 487.56 L541.840 481.07 L541.860 464.57 L541.880 436.22 L541.900 394.84 L541.920 342.38 L541.940 289.42 L541.960 257.99 L541.966 256.19 L541.980 267.45 L542.000 312.63 L542.020 370.46 L542.040 423.17 L542.060 464.61 L542.080 495.10 L542.100 516.76 L542.120 531.62 L542.140 541.20 L542.160 546.40 L542.180 547.65 L542.200 544.94 L542.220 537.80 L542.240 525.41 L542.260 506.83 L542.280 481.99 L542.300 454.06 L542.320 432.24 L542.334 427.37 L542.340 428.74 L542.360 446.83 L542.380 476.76 L542.400 507.08 L542.420 532.29 L542.440 551.59 L542.460 565.93 L542.480 576.51 L542.500 584.32 L542.520 590.09 L542.540 594.32 L542.560 597.35 L542.580 599.38 L542.600 600.55 L542.620 600.92 L542.640 600.48 L542.660 599.14 L542.680 596.76 L542.700 593.07 L542.720 587.68 L542.740 580.01 L542.760 569.25 L542.780 554.53 L542.800 535.32 L542.820 512.95 L542.840 492.87 L542.860 484.40 L542.880 492.94 L542.900 513.47 L542.920 536.63 L542.940 556.77 L542.960 572.48 L542.980 584.22 L543.000 592.92 L543.020 599.39 L543.040 604.23 L543.060 607.88 L543.080 610.64 L543.100 612.69 L543.120 614.18 L543.140 615.19 L543.160 615.77 L543.180 615.91 L543.200 615.58 L543.220 614.73 L543.240 613.22 L543.260 610.86 L543.280 607.39 L543.300 602.45 L543.320 595.79 L543.340 587.61 L543.360 579.46 L543.380 574.66 L543.386 574.40 L543.400 576.18 L543.420 583.25 L543.440 592.34 L543.460 600.72 L543.480 607.44 L543.500 612.54 L543.520 616.37 L543.540 619.25 L543.560 621.45 L543.580 623.17 L543.600 624.52 L543.620 625.62 L543.640 626.51 L543.660 627.24 L543.680 627.86 L543.700 628.39 L543.720 628.84 L543.740 629.23 L543.760 629.58 L543.780 629.88 L543.800 630.14 L543.820 630.38 L543.840 630.60 L543.860 630.79 L543.880 630.97 L543.900 631.13 L543.920 631.27 L543.940 631.41 L543.960 631.53 L543.980 631.65 L544.000 631.76 L544.020 631.86 L544.040 631.95 L544.060 632.04 L544.080 632.12 L544.100 632.19 L544.120 632.27 L544.140 632.33 L544.160 632.40 L544.180 632.46 L544.200 632.52 L544.220 632.57 L544.240 632.62 L544.260 632.67 L544.280 632.72 L544.300 632.76 L544.320 632.81 L544.340 632.85 L544.360 632.89 L544.380 632.93 L544.400 632.96 L544.420 633.00 L544.440 633.03 L544.460 633.06 L544.480 633.09 L544.500 633.12 L544.520 633.15 L544.540 633.18 L544.560 633.20 L544.580 633.23 L544.600 633.25 L544.620 633.28 L544.640 633.30 L544.660 633.32 L544.680 633.34 L544.700 633.36 L544.720 633.38 L544.740 633.40 L544.760 633.42 L544.780 633.44 L544.800 633.46 L544.820 633.48 L544.840 633.49 L544.860 633.51 L544.880 633.52 L544.900 633.54 L544.920 633.55 L544.940 633.57 L544.960 633.58 L544.980 633.60 L545.080 633.66 L545.180 633.72 L545.280 633.76 L545.380 633.81 L545.480 633.85 L545.580 633.88 L545.680 633.91 L545.780 633.94 L545.880 633.97 L545.980 633.99 L546.080 634.02 L546.180 634.04 L546.280 634.05 L546.380 634.07 L546.480 634.09 L546.580 634.10 L546.680 634.11 L546.780 634.13 L546.880 634.14 L546.980 634.15 L547.080 634.16 L547.180 634.17 L547.280 634.18 L547.380 634.18 L547.480 634.19 L547.580 634.20 L547.680 634.20 L547.780 634.21 L547.880 634.22 L547.980 634.22 L548.080 634.22 L548.180 634.23 L548.280 634.23 L548.380 634.23 L548.480 634.23 L548.500 634.23 L548.520 634.24 L548.540 634.24 L548.560 634.24 L548.580 634.24 L548.600 634.24 L548.620 634.24 L548.640 634.24 L548.660 634.24 L548.680 634.24 L548.700 634.23 L548.720 634.23 L548.740 634.23 L548.760 634.23 L548.780 634.23 L548.800 634.23 L548.820 634.23 L548.840 634.23 L548.860 634.23 L548.880 634.23 L548.900 634.23 L548.920 634.23 L548.940 634.23 L548.960 634.23 L548.980 634.22 L549.000 634.22 L549.020 634.22 L549.040 634.22 L549.060 634.22 L549.080 634.22 L549.100 634.21 L549.120 634.21 L549.140 634.21 L549.160 634.21 L549.180 634.20 L549.200 634.20 L549.220 634.20 L549.240 634.19 L549.260 634.19 L549.280 634.18 L549.300 634.18 L549.320 634.17 L549.340 634.17 L549.360 634.16 L549.380 634.15 L549.400 634.15 L549.420 634.14 L549.440 634.13 L549.460 634.12 L549.480 634.11 L549.500 634.10 L549.520 634.08 L549.540 634.07 L549.560 634.05 L549.580 634.03 L549.600 634.01 L549.620 633.99 L549.640 633.96 L549.660 633.93 L549.680 633.90 L549.700 633.87 L549.720 633.83 L549.740 633.78 L549.760 633.73 L549.780 633.67 L549.800 633.61 L549.820 633.54 L549.840 633.47 L549.860 633.39 L549.880 633.30 L549.900 633.22 L549.920 633.13 L549.940 633.05 L549.960 632.99 L549.980 632.94 L550.000 632.91 L550.014 632.90 L550.020 632.90 L550.040 632.92 L550.060 632.97 L550.080 633.03 L550.100 633.10 L550.120 633.19 L550.140 633.28 L550.160 633.36 L550.180 633.44 L550.200 633.52 L550.220 633.59 L550.240 633.66 L550.260 633.72 L550.280 633.77 L550.300 633.82 L550.320 633.86 L550.340 633.90 L550.360 633.94 L550.380 633.97 L550.400 634.00 L550.420 634.02 L550.440 634.04 L550.460 634.06 L550.480 634.08 L550.500 634.10 L550.520 634.11 L550.540 634.13 L550.560 634.14 L550.580 634.15 L550.600 634.16 L550.620 634.17 L550.640 634.18 L550.660 634.19 L550.680 634.20 L550.700 634.20 L550.720 634.21 L550.740 634.22 L550.760 634.22 L550.780 634.23 L550.800 634.23 L550.820 634.24 L550.840 634.24 L550.860 634.25 L550.880 634.25 L550.900 634.25 L550.920 634.26 L550.940 634.26 L550.960 634.26 L550.980 634.27 L551.000 634.27 L551.020 634.27 L551.040 634.27 L551.060 634.28 L551.080 634.28 L551.100 634.28 L551.120 634.28 L551.140 634.28 L551.160 634.29 L551.180 634.29 L551.200 634.29 L551.220 634.29 L551.240 634.29 L551.260 634.29 L551.280 634.30 L551.300 634.30 L551.320 634.30 L551.340 634.30 L551.360 634.30 L551.380 634.30 L551.400 634.30 L551.420 634.31 L551.440 634.31 L551.460 634.31 L551.480 634.31 L551.500 634.31 L551.520 634.31 L551.540 634.31 L551.560 634.31 L551.580 634.31 L551.600 634.31 L551.700 634.32 L551.800 634.32 L551.900 634.32 L552.000 634.33 L552.100 634.33 L552.200 634.33 L552.300 634.33 L552.400 634.34 L552.500 634.34 L552.600 634.34 L552.700 634.34 L552.800 634.34 L552.900 634.34 L553.000 634.35 L553.100 634.35 L553.200 634.35 L553.300 634.35 L553.400 634.35 L553.500 634.35 L553.600 634.35 L553.700 634.35 L553.800 634.35 L553.900 634.36 L554.000 634.36 L554.100 634.36 L554.200 634.36 L554.300 634.36 L554.400 634.36 L554.500 634.36 L554.600 634.36 L554.700 634.36 L554.800 634.36 L554.900 634.36 L555.000 634.36 L555.100 634.36 L555.200 634.37 L555.300 634.37 L555.400 634.37 L555.500 634.37 L555.600 634.37 L555.700 634.37 L555.800 634.37 L555.900 634.37 L556.000 634.37 L556.100 634.37 L556.200 634.37 L556.300 634.37 L556.400 634.37 L556.500 634.37 L556.600 634.37 L556.700 634.37 L556.800 634.37 L556.900 634.37 L557.000 634.37 L557.100 634.37 L557.200 634.37 L557.300 634.37 L557.400 634.37 L557.500 634.37 L557.600 634.38 L557.700 634.38 L557.800 634.38 L557.900 634.38 L558.000 634.38 L559.000 634.38 L560.000 634.38 L561.000 634.38 L562.000 634.38 L562.100 634.38 L562.200 634.38 L562.300 634.38 L562.400 634.38 L562.500 634.38 L562.600 634.38 L562.700 634.38 L562.800 634.38 L562.900 634.39 L563.000 634.39 L563.100 634.39 L563.200 634.39 L563.300 634.39 L563.400 634.39 L563.500 634.39 L563.600 634.39 L563.700 634.39 L563.800 634.39 L563.900 634.39 L564.000 634.39 L564.100 634.39 L564.200 634.39 L564.300 634.39 L564.400 634.39 L564.500 634.39 L564.600 634.39 L564.700 634.39 L564.800 634.39 L564.900 634.39 L565.000 634.39 L565.100 634.39 L565.200 634.39 L565.300 634.39 L565.400 634.39 L565.500 634.39 L565.600 634.39 L565.700 634.39 L565.800 634.39 L565.900 634.39 L566.000 634.39 L566.100 634.39 L566.200 634.39 L566.300 634.38 L566.400 634.38 L566.500 634.38 L566.600 634.38 L566.700 634.38 L566.800 634.38 L566.900 634.38 L567.000 634.38 L567.100 634.38 L567.200 634.38 L567.300 634.38 L567.400 634.38 L567.500 634.38 L567.600 634.38 L567.700 634.38 L567.800 634.38 L567.900 634.38 L568.000 634.37 L568.100 634.37 L568.200 634.37 L568.220 634.37 L568.240 634.37 L568.260 634.37 L568.280 634.37 L568.300 634.37 L568.320 634.37 L568.340 634.37 L568.360 634.37 L568.380 634.37 L568.400 634.37 L568.420 634.36 L568.440 634.36 L568.460 634.36 L568.480 634.36 L568.500 634.36 L568.520 634.36 L568.540 634.36 L568.560 634.36 L568.580 634.36 L568.600 634.36 L568.620 634.36 L568.640 634.35 L568.660 634.35 L568.680 634.35 L568.700 634.35 L568.720 634.35 L568.740 634.35 L568.760 634.35 L568.780 634.34 L568.800 634.34 L568.820 634.34 L568.840 634.34 L568.860 634.34 L568.880 634.33 L568.900 634.33 L568.920 634.33 L568.940 634.32 L568.960 634.32 L568.980 634.32 L569.000 634.31 L569.020 634.31 L569.040 634.30 L569.060 634.30 L569.080 634.29 L569.100 634.29 L569.120 634.28 L569.140 634.27 L569.160 634.26 L569.180 634.25 L569.200 634.24 L569.220 634.23 L569.240 634.22 L569.260 634.20 L569.280 634.18 L569.300 634.16 L569.320 634.14 L569.340 634.11 L569.360 634.08 L569.380 634.04 L569.400 634.00 L569.420 633.94 L569.440 633.87 L569.460 633.78 L569.480 633.67 L569.500 633.53 L569.520 633.34 L569.540 633.08 L569.560 632.72 L569.580 632.22 L569.600 631.50 L569.620 630.45 L569.640 629.00 L569.660 627.33 L569.680 626.18 L569.686 626.10 L569.700 626.47 L569.720 627.93 L569.740 629.57 L569.760 630.87 L569.780 631.79 L569.800 632.42 L569.820 632.86 L569.840 633.18 L569.860 633.40 L569.880 633.58 L569.900 633.71 L569.920 633.81 L569.940 633.89 L569.960 633.95 L569.980 634.00 L570.000 634.04 L570.020 634.08 L570.040 634.11 L570.060 634.14 L570.080 634.16 L570.100 634.18 L570.120 634.19 L570.140 634.20 L570.160 634.22 L570.180 634.23 L570.200 634.24 L570.220 634.24 L570.240 634.25 L570.260 634.26 L570.280 634.26 L570.300 634.27 L570.320 634.27 L570.340 634.27 L570.360 634.28 L570.380 634.28 L570.400 634.28 L570.420 634.28 L570.440 634.29 L570.460 634.29 L570.480 634.29 L570.500 634.29 L570.520 634.29 L570.540 634.29 L570.560 634.29 L570.580 634.29 L570.600 634.29 L570.620 634.29 L570.640 634.29 L570.660 634.28 L570.680 634.28 L570.700 634.28 L570.720 634.28 L570.740 634.28 L570.760 634.27 L570.780 634.27 L570.800 634.26 L570.820 634.26 L570.840 634.26 L570.860 634.25 L570.880 634.24 L570.900 634.24 L570.920 634.23 L570.940 634.22 L570.960 634.22 L570.980 634.21 L571.000 634.20 L571.020 634.18 L571.040 634.17 L571.060 634.16 L571.080 634.14 L571.100 634.12 L571.120 634.10 L571.140 634.08 L571.160 634.06 L571.180 634.03 L571.200 634.00 L571.220 633.96 L571.240 633.92 L571.260 633.87 L571.280 633.82 L571.300 633.76 L571.320 633.69 L571.340 633.60 L571.360 633.50 L571.380 633.39 L571.400 633.26 L571.420 633.11 L571.440 632.94 L571.460 632.75 L571.480 632.54 L571.500 632.33 L571.520 632.13 L571.540 631.96 L571.560 631.84 L571.580 631.80 L571.600 631.84 L571.620 631.96 L571.640 632.13 L571.660 632.33 L571.680 632.54 L571.700 632.75 L571.720 632.94 L571.740 633.11 L571.760 633.26 L571.780 633.39 L571.800 633.51 L571.820 633.61 L571.840 633.69 L571.860 633.76 L571.880 633.83 L571.900 633.88 L571.920 633.93 L571.940 633.97 L571.960 634.01 L571.980 634.04 L572.000 634.07 L572.020 634.09 L572.040 634.12 L572.060 634.14 L572.080 634.15 L572.100 634.17 L572.120 634.18 L572.140 634.20 L572.160 634.21 L572.180 634.22 L572.200 634.23 L572.220 634.24 L572.240 634.25 L572.260 634.26 L572.280 634.26 L572.300 634.27 L572.320 634.28 L572.340 634.28 L572.360 634.29 L572.380 634.29 L572.400 634.30 L572.420 634.30 L572.440 634.30 L572.460 634.31 L572.480 634.31 L572.500 634.32 L572.520 634.32 L572.540 634.32 L572.560 634.32 L572.580 634.33 L572.600 634.33 L572.620 634.33 L572.640 634.33 L572.660 634.34 L572.680 634.34 L572.700 634.34 L572.720 634.34 L572.740 634.34 L572.760 634.34 L572.780 634.35 L572.800 634.35 L572.820 634.35 L572.840 634.35 L572.860 634.35 L572.880 634.35 L572.900 634.35 L572.920 634.36 L572.940 634.36 L572.960 634.36 L572.980 634.36 L573.000 634.36 L573.020 634.36 L573.040 634.36 L573.060 634.36 L573.080 634.36 L573.100 634.36 L573.120 634.36 L573.140 634.36 L573.160 634.37 L573.260 634.37 L573.360 634.37 L573.460 634.37 L573.560 634.38 L573.660 634.38 L573.760 634.38 L573.860 634.38 L573.960 634.38 L574.060 634.38 L574.160 634.38 L574.260 634.38 L574.360 634.38 L574.460 634.38 L574.560 634.39 L574.660 634.39 L574.760 634.39 L574.860 634.39 L574.960 634.39 L575.060 634.39 L575.160 634.39 L575.260 634.39 L575.360 634.39 L575.460 634.39 L575.560 634.39 L575.660 634.39 L575.760 634.39 L575.860 634.39 L575.960 634.39 L576.060 634.39 L576.160 634.39 L576.260 634.39 L576.360 634.39 L576.460 634.39 L576.560 634.39 L576.660 634.39 L576.760 634.39 L576.860 634.39 L576.960 634.39 L577.060 634.39 L577.160 634.39 L577.260 634.39 L577.360 634.39 L577.460 634.39 L577.560 634.39 L577.660 634.39 L577.760 634.39 L577.860 634.39 L577.960 634.39 L578.060 634.39 L578.160 634.39 L578.260 634.39 L578.360 634.39 L578.460 634.39 L578.560 634.39 L578.660 634.39 L578.760 634.39 L578.860 634.39 L578.960 634.39 L579.060 634.39 L579.160 634.39 L579.260 634.39 L579.360 634.39 L579.460 634.39 L579.560 634.39 L580.560 634.39 L581.560 634.39 L582.560 634.40 L583.560 634.40 L584.560 634.40 L585.560 634.40 L586.560 634.40 L587.560 634.40 L588.560 634.40 L589.560 634.40 L590.560 634.40 L591.560 634.40 L592.560 634.40 L593.560 634.40 L594.560 634.40 L595.560 634.40 L596.560 634.40 L597.560 634.40 L598.560 634.40 L599.560 634.40 L600.560 634.40 L601.560 634.40 L602.560 634.40 L603.560 634.40 L604.560 634.40 L605.560 634.40 L606.560 634.40 L607.560 634.40 L608.560 634.40 L609.560 634.40 L610.560 634.40 L611.560 634.40 L612.560 634.40 L613.560 634.40 L614.560 634.40 L615.560 634.40 L616.560 634.40 L617.560 634.40 L618.560 634.40 L619.560 634.40 L620.560 634.40 L621.560 634.40 L622.560 634.40 L623.560 634.40 L624.560 634.40 L625.560 634.40 L626.560 634.40 L627.560 634.40 L628.560 634.40 L629.560 634.40 L630.560 634.40 L631.560 634.40 L632.560 634.40 L633.560 634.40 L634.560 634.39 L635.560 634.39 L636.560 634.39 L637.560 634.39 L638.560 634.39 L639.560 634.39 L640.560 634.39 L641.560 634.39 L642.560 634.39 L643.560 634.39 L644.560 634.39 L645.560 634.39 L646.560 634.38 L647.560 634.38 L648.560 634.38 L649.560 634.38 L650.560 634.37 L650.660 634.37 L650.760 634.37 L650.860 634.37 L650.960 634.37 L651.060 634.37 L651.160 634.37 L651.260 634.36 L651.360 634.36 L651.460 634.36 L651.560 634.36 L651.660 634.36 L651.760 634.36 L651.860 634.36 L651.960 634.36 L652.060 634.36 L652.160 634.35 L652.260 634.35 L652.360 634.35 L652.460 634.35 L652.560 634.35 L652.660 634.35 L652.760 634.35 L652.860 634.34 L652.960 634.34 L653.060 634.34 L653.160 634.34 L653.260 634.34 L653.360 634.33 L653.460 634.33 L653.560 634.33 L653.660 634.32 L653.760 634.32 L653.860 634.32 L653.960 634.31 L654.060 634.31 L654.160 634.31 L654.260 634.30 L654.360 634.30 L654.460 634.29 L654.560 634.29 L654.660 634.28 L654.760 634.27 L654.860 634.27 L654.960 634.26 L655.060 634.25 L655.160 634.24 L655.260 634.23 L655.360 634.22 L655.460 634.20 L655.560 634.19 L655.660 634.17 L655.760 634.15 L655.860 634.13 L655.960 634.10 L656.060 634.07 L656.160 634.03 L656.260 633.99 L656.280 633.98 L656.300 633.97 L656.320 633.96 L656.340 633.95 L656.360 633.94 L656.380 633.93 L656.400 633.92 L656.420 633.91 L656.440 633.89 L656.460 633.88 L656.480 633.87 L656.500 633.85 L656.520 633.84 L656.540 633.82 L656.560 633.81 L656.580 633.79 L656.600 633.77 L656.620 633.75 L656.640 633.73 L656.660 633.71 L656.680 633.69 L656.700 633.67 L656.720 633.65 L656.740 633.62 L656.760 633.59 L656.780 633.57 L656.800 633.54 L656.820 633.51 L656.840 633.47 L656.860 633.44 L656.880 633.40 L656.900 633.37 L656.920 633.32 L656.940 633.28 L656.960 633.23 L656.980 633.19 L657.000 633.13 L657.020 633.08 L657.040 633.02 L657.060 632.95 L657.080 632.88 L657.100 632.81 L657.120 632.72 L657.140 632.64 L657.160 632.54 L657.180 632.44 L657.200 632.33 L657.220 632.20 L657.240 632.07 L657.260 631.92 L657.280 631.75 L657.300 631.57 L657.320 631.37 L657.340 631.15 L657.360 630.89 L657.380 630.61 L657.400 630.28 L657.420 629.92 L657.440 629.49 L657.460 629.00 L657.480 628.43 L657.500 627.75 L657.520 626.95 L657.540 625.98 L657.560 624.80 L657.580 623.34 L657.600 621.49 L657.620 619.12 L657.640 616.00 L657.660 611.80 L657.680 606.00 L657.700 597.80 L657.720 586.08 L657.740 569.80 L657.760 549.72 L657.780 532.47 L657.791 528.45 L657.800 529.16 L657.820 540.76 L657.840 556.15 L657.860 567.24 L657.880 572.00 L657.900 570.42 L657.920 562.19 L657.940 546.38 L657.960 522.75 L657.980 496.43 L658.000 482.80 L658.002 482.81 L658.020 494.75 L658.040 522.89 L658.060 550.83 L658.080 572.09 L658.100 586.92 L658.120 597.06 L658.140 604.00 L658.160 608.74 L658.180 611.86 L658.200 613.71 L658.220 614.38 L658.240 613.82 L658.260 611.89 L658.280 608.66 L658.300 605.31 L658.317 604.39 L658.320 604.54 L658.340 607.77 L658.360 612.90 L658.380 617.57 L658.400 621.08 L658.420 623.59 L658.440 625.38 L658.460 626.68 L658.480 627.66 L658.500 628.40 L658.520 628.97 L658.540 629.42 L658.560 629.77 L658.580 630.04 L658.600 630.24 L658.620 630.38 L658.640 630.46 L658.660 630.48 L658.680 630.43 L658.700 630.30 L658.720 630.06 L658.740 629.69 L658.760 629.12 L658.780 628.27 L658.800 627.00 L658.820 625.11 L658.840 622.38 L658.860 618.84 L658.880 615.48 L658.896 614.40 L658.900 614.48 L658.920 616.78 L658.940 620.53 L658.960 623.88 L658.980 626.34 L659.000 628.05 L659.020 629.24 L659.040 630.06 L659.060 630.65 L659.080 631.08 L659.100 631.39 L659.120 631.61 L659.140 631.76 L659.160 631.85 L659.180 631.89 L659.200 631.87 L659.220 631.79 L659.240 631.64 L659.260 631.40 L659.280 631.04 L659.300 630.49 L659.320 629.69 L659.340 628.49 L659.360 626.73 L659.380 624.36 L659.400 621.79 L659.420 620.41 L659.422 620.40 L659.440 621.41 L659.460 623.93 L659.480 626.47 L659.500 628.40 L659.520 629.76 L659.540 630.70 L659.560 631.36 L659.580 631.83 L659.600 632.17 L659.620 632.42 L659.640 632.61 L659.660 632.75 L659.680 632.86 L659.700 632.93 L659.720 632.98 L659.740 633.01 L659.760 633.01 L659.780 632.98 L659.800 632.92 L659.820 632.83 L659.840 632.68 L659.860 632.46 L659.880 632.14 L659.900 631.66 L659.920 630.95 L659.940 629.93 L659.960 628.55 L659.980 627.10 L660.000 626.40 L660.001 626.40 L660.020 627.06 L660.040 628.53 L660.060 629.96 L660.080 631.04 L660.100 631.80 L660.120 632.33 L660.140 632.70 L660.160 632.97 L660.180 633.17 L660.200 633.33 L660.220 633.44 L660.240 633.54 L660.260 633.61 L660.280 633.68 L660.300 633.73 L660.320 633.77 L660.340 633.81 L660.360 633.84 L660.380 633.87 L660.400 633.90 L660.420 633.92 L660.440 633.94 L660.460 633.96 L660.480 633.97 L660.500 633.99 L660.520 634.00 L660.540 634.01 L660.560 634.02 L660.580 634.03 L660.600 634.04 L660.620 634.05 L660.640 634.06 L660.660 634.07 L660.680 634.07 L660.700 634.08 L660.720 634.09 L660.740 634.09 L660.760 634.10 L660.780 634.10 L660.800 634.11 L660.820 634.11 L660.840 634.12 L660.860 634.12 L660.880 634.13 L660.900 634.13 L660.920 634.13 L660.940 634.14 L660.960 634.14 L660.980 634.14 L661.000 634.15 L661.020 634.15 L661.040 634.15 L661.060 634.16 L661.080 634.16 L661.100 634.16 L661.120 634.16 L661.140 634.17 L661.160 634.17 L661.180 634.17 L661.200 634.17 L661.220 634.17 L661.240 634.18 L661.260 634.18 L661.280 634.18 L661.300 634.18 L661.320 634.18 L661.340 634.18 L661.360 634.19 L661.380 634.19 L661.400 634.19 L661.420 634.19 L661.440 634.19 L661.460 634.19 L661.480 634.19 L661.500 634.19 L661.520 634.19 L661.540 634.20 L661.560 634.20 L661.580 634.20 L661.680 634.20 L661.780 634.20 L661.880 634.21 L661.980 634.21 L662.080 634.21 L662.180 634.21 L662.280 634.20 L662.380 634.20 L662.480 634.20 L662.580 634.20 L662.680 634.19 L662.780 634.19 L662.880 634.18 L662.980 634.17 L663.080 634.17 L663.180 634.16 L663.280 634.15 L663.380 634.14 L663.480 634.13 L663.580 634.11 L663.680 634.10 L663.780 634.08 L663.880 634.06 L663.980 634.04 L664.080 634.02 L664.180 633.99 L664.280 633.96 L664.380 633.92 L664.480 633.88 L664.580 633.84 L664.680 633.79 L664.780 633.72 L664.880 633.65 L664.980 633.57 L665.000 633.56 L665.020 633.54 L665.040 633.52 L665.060 633.50 L665.080 633.48 L665.100 633.46 L665.120 633.43 L665.140 633.41 L665.160 633.39 L665.180 633.37 L665.200 633.34 L665.220 633.31 L665.240 633.29 L665.260 633.26 L665.280 633.23 L665.300 633.20 L665.320 633.17 L665.340 633.14 L665.360 633.11 L665.380 633.07 L665.400 633.04 L665.420 633.00 L665.440 632.96 L665.460 632.92 L665.480 632.88 L665.500 632.84 L665.520 632.79 L665.540 632.75 L665.560 632.70 L665.580 632.65 L665.600 632.60 L665.620 632.55 L665.640 632.49 L665.660 632.43 L665.680 632.37 L665.700 632.31 L665.720 632.25 L665.740 632.18 L665.760 632.11 L665.780 632.04 L665.800 631.96 L665.820 631.89 L665.840 631.81 L665.860 631.73 L665.880 631.64 L665.900 631.55 L665.920 631.46 L665.940 631.37 L665.960 631.27 L665.980 631.17 L666.000 631.07 L666.020 630.97 L666.040 630.86 L666.060 630.75 L666.080 630.64 L666.100 630.53 L666.120 630.41 L666.140 630.30 L666.160 630.19 L666.180 630.07 L666.200 629.96 L666.220 629.84 L666.240 629.73 L666.260 629.62 L666.280 629.52 L666.300 629.42 L666.320 629.32 L666.340 629.23 L666.360 629.15 L666.380 629.07 L666.400 629.00 L666.420 628.94 L666.440 628.89 L666.460 628.85 L666.480 628.83 L666.500 628.81 L666.520 628.80 L666.523 628.80 L666.540 628.80 L666.560 628.82 L666.580 628.85 L666.600 628.88 L666.620 628.93 L666.640 628.99 L666.660 629.05 L666.680 629.13 L666.700 629.21 L666.720 629.30 L666.740 629.39 L666.760 629.49 L666.780 629.59 L666.800 629.70 L666.820 629.81 L666.840 629.93 L666.860 630.04 L666.880 630.15 L666.900 630.27 L666.920 630.38 L666.940 630.50 L666.960 630.61 L666.980 630.72 L667.000 630.83 L667.020 630.94 L667.040 631.04 L667.060 631.15 L667.080 631.25 L667.100 631.34 L667.120 631.44 L667.140 631.53 L667.160 631.62 L667.180 631.71 L667.200 631.79 L667.220 631.87 L667.240 631.95 L667.260 632.02 L667.280 632.10 L667.300 632.17 L667.320 632.23 L667.340 632.30 L667.360 632.36 L667.380 632.42 L667.400 632.48 L667.420 632.54 L667.440 632.59 L667.460 632.64 L667.480 632.69 L667.500 632.74 L667.520 632.79 L667.540 632.83 L667.560 632.88 L667.580 632.92 L667.600 632.96 L667.620 633.00 L667.640 633.03 L667.660 633.07 L667.680 633.11 L667.700 633.14 L667.720 633.17 L667.740 633.20 L667.760 633.23 L667.780 633.26 L667.800 633.29 L667.820 633.32 L667.840 633.34 L667.860 633.37 L667.880 633.39 L667.900 633.42 L667.920 633.44 L667.940 633.46 L667.960 633.48 L667.980 633.50 L668.000 633.53 L668.020 633.54 L668.040 633.56 L668.060 633.58 L668.080 633.60 L668.100 633.62 L668.120 633.63 L668.220 633.71 L668.320 633.77 L668.420 633.83 L668.520 633.88 L668.620 633.92 L668.720 633.96 L668.820 634.00 L668.920 634.03 L669.020 634.05 L669.120 634.08 L669.220 634.10 L669.320 634.12 L669.420 634.14 L669.520 634.15 L669.620 634.17 L669.720 634.18 L669.820 634.19 L669.920 634.20 L670.020 634.21 L670.120 634.22 L670.220 634.23 L670.320 634.24 L670.420 634.25 L670.520 634.26 L670.620 634.26 L670.720 634.27 L670.820 634.27 L670.920 634.28 L671.020 634.28 L671.120 634.29 L671.220 634.29 L671.320 634.30 L671.420 634.30 L671.520 634.31 L671.620 634.31 L671.720 634.31 L671.820 634.31 L671.920 634.32 L672.020 634.32 L672.120 634.32 L672.220 634.33 L672.320 634.33 L672.420 634.33 L672.520 634.33 L672.620 634.33 L672.720 634.34 L672.820 634.34 L672.920 634.34 L673.020 634.34 L673.120 634.34 L673.220 634.34 L673.320 634.35 L673.420 634.35 L673.520 634.35 L673.620 634.35 L673.720 634.35 L673.820 634.35 L673.920 634.35 L674.020 634.36 L674.120 634.36 L674.220 634.36 L674.320 634.36 L674.420 634.36 L675.420 634.37 L676.420 634.37 L677.420 634.38 L678.420 634.38 L679.420 634.38 L680.420 634.39 L681.420 634.39 L682.420 634.39 L683.420 634.39 L684.420 634.39 L685.420 634.39 L686.420 634.39 L687.420 634.39 L688.420 634.39 L689.420 634.39 L690.420 634.39 L691.420 634.39 L692.420 634.39 L693.420 634.39 L693.520 634.39 L693.620 634.39 L693.720 634.39 L693.820 634.39 L693.920 634.39 L694.020 634.39 L694.120 634.39 L694.220 634.39 L694.320 634.39 L694.420 634.39 L694.520 634.39 L694.620 634.39 L694.720 634.39 L694.820 634.39 L694.920 634.39 L695.020 634.39 L695.120 634.39 L695.220 634.39 L695.320 634.39 L695.420 634.39 L695.520 634.39 L695.620 634.39 L695.720 634.39 L695.820 634.39 L695.920 634.39 L696.020 634.39 L696.120 634.38 L696.220 634.38 L696.320 634.38 L696.420 634.38 L696.520 634.38 L696.620 634.38 L696.720 634.38 L696.820 634.38 L696.920 634.38 L697.020 634.38 L697.120 634.38 L697.220 634.38 L697.320 634.37 L697.420 634.37 L697.520 634.37 L697.620 634.37 L697.720 634.37 L697.820 634.37 L697.920 634.36 L698.020 634.36 L698.120 634.36 L698.220 634.35 L698.320 634.35 L698.420 634.35 L698.520 634.34 L698.620 634.34 L698.720 634.33 L698.820 634.32 L698.920 634.31 L698.940 634.31 L698.960 634.31 L698.980 634.31 L699.000 634.30 L699.020 634.30 L699.040 634.30 L699.060 634.30 L699.080 634.29 L699.100 634.29 L699.120 634.29 L699.140 634.29 L699.160 634.28 L699.180 634.28 L699.200 634.28 L699.220 634.27 L699.240 634.27 L699.260 634.27 L699.280 634.26 L699.300 634.26 L699.320 634.25 L699.340 634.25 L699.360 634.25 L699.380 634.24 L699.400 634.24 L699.420 634.23 L699.440 634.23 L699.460 634.22 L699.480 634.22 L699.500 634.21 L699.520 634.20 L699.540 634.20 L699.560 634.19 L699.580 634.18 L699.600 634.18 L699.620 634.17 L699.640 634.16 L699.660 634.15 L699.680 634.14 L699.700 634.13 L699.720 634.12 L699.740 634.11 L699.760 634.10 L699.780 634.09 L699.800 634.08 L699.820 634.07 L699.840 634.06 L699.860 634.04 L699.880 634.03 L699.900 634.02 L699.920 634.00 L699.940 633.99 L699.960 633.97 L699.980 633.95 L700.000 633.94 L700.020 633.92 L700.040 633.90 L700.060 633.88 L700.080 633.86 L700.100 633.84 L700.120 633.83 L700.140 633.81 L700.160 633.79 L700.180 633.77 L700.200 633.75 L700.220 633.73 L700.240 633.71 L700.260 633.69 L700.280 633.68 L700.300 633.66 L700.320 633.65 L700.340 633.63 L700.360 633.62 L700.380 633.61 L700.400 633.61 L700.420 633.60 L700.440 633.60 L700.450 633.60 L700.460 633.60 L700.480 633.60 L700.500 633.61 L700.520 633.61 L700.540 633.62 L700.560 633.63 L700.580 633.65 L700.600 633.66 L700.620 633.68 L700.640 633.69 L700.660 633.71 L700.680 633.73 L700.700 633.75 L700.720 633.77 L700.740 633.79 L700.760 633.81 L700.780 633.83 L700.800 633.84 L700.820 633.86 L700.840 633.88 L700.860 633.90 L700.880 633.92 L700.900 633.94 L700.920 633.95 L700.940 633.97 L700.960 633.99 L700.980 634.00 L701.000 634.02 L701.020 634.03 L701.040 634.04 L701.060 634.06 L701.080 634.07 L701.100 634.08 L701.120 634.09 L701.140 634.10 L701.160 634.11 L701.180 634.12 L701.200 634.13 L701.220 634.14 L701.240 634.15 L701.260 634.16 L701.280 634.17 L701.300 634.18 L701.320 634.18 L701.340 634.19 L701.360 634.20 L701.380 634.20 L701.400 634.21 L701.420 634.22 L701.440 634.22 L701.460 634.23 L701.480 634.23 L701.500 634.24 L701.520 634.24 L701.540 634.25 L701.560 634.25 L701.580 634.26 L701.600 634.26 L701.620 634.26 L701.640 634.27 L701.660 634.27 L701.680 634.27 L701.700 634.28 L701.720 634.28 L701.740 634.28 L701.760 634.29 L701.780 634.29 L701.800 634.29 L701.820 634.29 L701.840 634.30 L701.860 634.30 L701.880 634.30 L701.900 634.30 L701.920 634.31 L701.940 634.31 L701.960 634.31 L701.980 634.31 L702.000 634.32 L702.020 634.32 L702.040 634.32 L702.140 634.33 L702.240 634.33 L702.340 634.34 L702.440 634.35 L702.540 634.35 L702.640 634.35 L702.740 634.36 L702.840 634.36 L702.940 634.36 L703.040 634.37 L703.140 634.37 L703.240 634.37 L703.340 634.37 L703.440 634.37 L703.540 634.38 L703.640 634.38 L703.740 634.38 L703.840 634.38 L703.940 634.38 L704.040 634.38 L704.140 634.38 L704.240 634.38 L704.340 634.38 L704.440 634.38 L704.540 634.38 L704.640 634.39 L704.740 634.39 L704.840 634.39 L704.940 634.39 L705.040 634.39 L705.140 634.39 L705.240 634.39 L705.340 634.39 L705.440 634.39 L705.540 634.39 L705.640 634.39 L705.740 634.39 L705.840 634.39 L705.940 634.39 L706.040 634.39 L706.140 634.39 L706.240 634.39 L706.340 634.39 L706.440 634.39 L706.540 634.39 L706.640 634.39 L706.740 634.39 L706.840 634.39 L706.940 634.39 L707.040 634.39 L707.140 634.39 L707.240 634.39 L707.340 634.39 L707.440 634.39 L707.540 634.39 L707.640 634.39 L707.740 634.39 L707.840 634.39 L707.940 634.39 L708.040 634.39 L708.140 634.39 L708.240 634.39 L708.340 634.39 L708.440 634.39 L709.440 634.40 L710.440 634.40 L711.440 634.40 L712.440 634.40 L713.440 634.40 L714.440 634.40 L715.440 634.40 L716.440 634.40 L717.440 634.40 L718.440 634.40 L719.440 634.40 L720.440 634.40 L721.440 634.40 L722.440 634.40 L723.440 634.40 L724.440 634.40 L725.440 634.40 L726.440 634.40 L727.440 634.40 L728.440 634.40 L729.440 634.40 L730.440 634.40 L731.440 634.40 L732.440 634.40 L733.440 634.40 L734.440 634.40 L735.440 634.40 L736.440 634.40 L737.440 634.40 L738.440 634.40 L739.440 634.40 L740.440 634.40 L741.440 634.40 L742.440 634.40 L743.440 634.40 L744.440 634.40 L745.440 634.40 L746.440 634.40 L747.440 634.40 L748.440 634.40 L749.440 634.40 L750.440 634.40 L751.440 634.40 L752.440 634.40 L753.440 634.40 L754.440 634.40 L755.440 634.40 L756.440 634.40 L757.440 634.40 L758.440 634.40 L759.440 634.40 L759.540 634.40 L759.640 634.40 L759.740 634.40 L759.840 634.40 L759.940 634.40 L760.040 634.40 L760.140 634.40 L760.240 634.40 L760.340 634.40 L760.440 634.40 L760.540 634.40 L760.640 634.40 L760.740 634.40 L760.840 634.40 L760.940 634.40 L761.040 634.40 L761.140 634.40 L761.240 634.40 L761.340 634.40 L761.440 634.40 L761.540 634.40 L761.640 634.40 L761.740 634.40 L761.840 634.40 L761.940 634.40 L762.040 634.40 L762.140 634.40 L762.240 634.40 L762.340 634.40 L762.440 634.40 L762.540 634.40 L762.640 634.40 L762.740 634.40 L762.840 634.40 L762.940 634.40 L763.040 634.40 L763.140 634.40 L763.240 634.40 L763.340 634.40 L763.440 634.40 L763.540 634.40 L763.640 634.40 L763.740 634.40 L763.840 634.40 L763.940 634.40 L764.040 634.40 L764.140 634.40 L764.240 634.39 L764.340 634.39 L764.440 634.39 L764.540 634.39 L764.640 634.39 L764.740 634.39 L764.840 634.39 L764.940 634.39 L765.040 634.39 L765.140 634.39 L765.240 634.39 L765.340 634.39 L765.440 634.39 L765.540 634.38 L765.640 634.38 L765.660 634.38 L765.680 634.38 L765.700 634.38 L765.720 634.38 L765.740 634.38 L765.760 634.38 L765.780 634.38 L765.800 634.38 L765.820 634.38 L765.840 634.38 L765.860 634.38 L765.880 634.38 L765.900 634.38 L765.920 634.37 L765.940 634.37 L765.960 634.37 L765.980 634.37 L766.000 634.37 L766.020 634.37 L766.040 634.37 L766.060 634.37 L766.080 634.37 L766.100 634.37 L766.120 634.36 L766.140 634.36 L766.160 634.36 L766.180 634.36 L766.200 634.36 L766.220 634.36 L766.240 634.36 L766.260 634.35 L766.280 634.35 L766.300 634.35 L766.320 634.35 L766.340 634.34 L766.360 634.34 L766.380 634.34 L766.400 634.34 L766.420 634.33 L766.440 634.33 L766.460 634.32 L766.480 634.32 L766.500 634.32 L766.520 634.31 L766.540 634.31 L766.560 634.30 L766.580 634.29 L766.600 634.29 L766.620 634.28 L766.640 634.27 L766.660 634.26 L766.680 634.25 L766.700 634.24 L766.720 634.22 L766.740 634.21 L766.760 634.19 L766.780 634.17 L766.800 634.15 L766.820 634.12 L766.840 634.09 L766.860 634.06 L766.880 634.01 L766.900 633.96 L766.920 633.90 L766.940 633.82 L766.960 633.73 L766.980 633.61 L767.000 633.46 L767.020 633.26 L767.040 633.00 L767.060 632.65 L767.080 632.15 L767.100 631.44 L767.120 630.41 L767.140 628.94 L767.160 626.99 L767.180 624.99 L767.199 624.10 L767.200 624.10 L767.220 625.09 L767.240 627.11 L767.260 629.04 L767.280 630.48 L767.300 631.49 L767.320 632.18 L767.340 632.67 L767.360 633.02 L767.380 633.28 L767.400 633.47 L767.420 633.62 L767.440 633.74 L767.460 633.83 L767.480 633.90 L767.500 633.96 L767.520 634.02 L767.540 634.06 L767.560 634.09 L767.580 634.12 L767.600 634.15 L767.620 634.17 L767.640 634.19 L767.660 634.21 L767.680 634.22 L767.700 634.24 L767.720 634.25 L767.740 634.26 L767.760 634.27 L767.780 634.28 L767.800 634.29 L767.820 634.29 L767.840 634.30 L767.860 634.31 L767.880 634.31 L767.900 634.32 L767.920 634.32 L767.940 634.33 L767.960 634.33 L767.980 634.33 L768.000 634.34 L768.020 634.34 L768.040 634.34 L768.060 634.34 L768.080 634.35 L768.100 634.35 L768.120 634.35 L768.140 634.35 L768.160 634.36 L768.180 634.36 L768.200 634.36 L768.220 634.36 L768.240 634.36 L768.260 634.36 L768.280 634.36 L768.300 634.37 L768.320 634.37 L768.340 634.37 L768.360 634.37 L768.380 634.37 L768.400 634.37 L768.420 634.37 L768.440 634.37 L768.460 634.37 L768.480 634.37 L768.500 634.38 L768.520 634.38 L768.540 634.38 L768.560 634.38 L768.580 634.38 L768.600 634.38 L768.620 634.38 L768.640 634.38 L768.660 634.38 L768.680 634.38 L768.700 634.38 L768.720 634.38 L768.740 634.38 L768.760 634.38 L768.780 634.38 L768.880 634.38 L768.980 634.39 L769.080 634.39 L769.180 634.39 L769.280 634.39 L769.380 634.39 L769.480 634.39 L769.580 634.39 L769.680 634.39 L769.780 634.39 L769.880 634.39 L769.980 634.39 L770.080 634.39 L770.180 634.39 L770.280 634.40 L770.380 634.40 L770.480 634.40 L770.580 634.40 L770.680 634.40 L770.780 634.40 L770.880 634.40 L770.980 634.40 L771.080 634.40 L771.180 634.40 L771.280 634.40 L771.380 634.40 L771.480 634.40 L771.580 634.40 L771.680 634.40 L771.780 634.40 L771.880 634.40 L771.980 634.40 L772.080 634.40 L772.180 634.40 L772.280 634.40 L772.380 634.40 L772.480 634.40 L772.580 634.40 L772.680 634.40 L772.780 634.40 L772.880 634.40 L772.980 634.40 L773.080 634.40 L773.180 634.40 L773.280 634.40 L773.380 634.40 L773.480 634.40 L773.580 634.40 L773.680 634.40 L773.780 634.40 L773.880 634.40 L773.980 634.40 L774.080 634.40 L774.180 634.40 L774.280 634.40 L774.380 634.40 L774.480 634.40 L774.580 634.40 L774.680 634.40 L774.780 634.40 L774.880 634.40 L774.980 634.40 L775.080 634.40 L775.180 634.40 L776.180 634.40 L777.180 634.40 L778.180 634.40 L779.180 634.40 L780.180 634.40 L781.180 634.40 L782.180 634.40 L783.180 634.40 L784.180 634.40 L785.180 634.40 L786.180 634.40 L787.180 634.40 L788.180 634.40 L789.180 634.40 L790.180 634.40 L791.180 634.40 L792.180 634.40 L793.180 634.40 L794.180 634.40 L795.180 634.40 L796.180 634.40 L797.180 634.40 L798.180 634.40 L799.180 634.40 L800.180 634.40 L801.180 634.40 L802.180 634.40 L803.180 634.40 L804.180 634.40 L805.180 634.40 L806.180 634.40 L807.180 634.40 L808.180 634.40 L809.180 634.40 L810.180 634.40 L811.180 634.40 L812.180 634.40 L813.180 634.40 L814.180 634.40 L815.180 634.40 L816.180 634.40 L817.180 634.40 L818.180 634.40 L819.180 634.40 L820.180 634.40 L821.180 634.40 L822.180 634.40 L823.180 634.40 L824.180 634.40 L825.180 634.40 L826.180 634.40 L827.180 634.40 L828.180 634.40 L829.180 634.40 L830.180 634.40 L831.180 634.40 L832.180 634.40 L833.180 634.40 L834.180 634.40 L835.180 634.40 L836.180 634.40 L837.180 634.40 L838.180 634.40 L839.180 634.40 L840.180 634.40 L841.180 634.40 L842.180 634.40 L843.180 634.40 L844.180 634.40 L845.180 634.40 L846.180 634.40 L847.180 634.40 L848.180 634.40 L849.180 634.40 L850.180 634.40 L851.180 634.40 L852.180 634.40 L853.180 634.40 L854.180 634.40 L855.180 634.40 L856.180 634.40 L857.180 634.40 L858.180 634.40 L859.180 634.40 L860.180 634.40 L861.180 634.40 L862.180 634.40 L863.180 634.40 L864.180 634.40 L865.180 634.40 L866.180 634.40 L867.180 634.40 L868.180 634.40 L869.180 634.40 L870.180 634.40 L871.180 634.40" fill="none" stroke="#555" stroke-width="0.6" stroke-linejoin="miter" stroke-miterlimit="1"/>
<g stroke="#000" fill="none">
<path d="M542.2 421V607" stroke-width="1.1" stroke-opacity="0.55"/>
<path d="M658.0 528V623" stroke-width="1.2" stroke-opacity="0.75"/>
<path d="M658.0 603V626" stroke-width="1.4" stroke-opacity="0.5"/>
<path d="M445.0 575V628" stroke-width="1.0" stroke-opacity="0.3"/>
</g>
<path d="M82.1 664.3H870.7 M866.14 664.3V667 M860.88 664.3V667 M855.62 664.3V667 M850.36 664.3V667 M845.10 664.3V667 M839.84 664.3V667 M834.58 664.3V667 M829.32 664.3V667 M824.06 664.3V667 M818.80 664.3V672.5 M813.54 664.3V667 M808.28 664.3V667 M803.02 664.3V667 M797.76 664.3V667 M792.50 664.3V667 M787.24 664.3V667 M781.98 664.3V667 M776.72 664.3V667 M771.46 664.3V667 M766.20 664.3V672.5 M760.94 664.3V667 M755.68 664.3V667 M750.42 664.3V667 M745.16 664.3V667 M739.90 664.3V667 M734.64 664.3V667 M729.38 664.3V667 M724.12 664.3V667 M718.86 664.3V667 M713.60 664.3V672.5 M708.34 664.3V667 M703.08 664.3V667 M697.82 664.3V667 M692.56 664.3V667 M687.30 664.3V667 M682.04 664.3V667 M676.78 664.3V667 M671.52 664.3V667 M666.26 664.3V667 M661.00 664.3V672.5 M655.74 664.3V667 M650.48 664.3V667 M645.22 664.3V667 M639.96 664.3V667 M634.70 664.3V667 M629.44 664.3V667 M624.18 664.3V667 M618.92 664.3V667 M613.66 664.3V667 M608.40 664.3V672.5 M603.14 664.3V667 M597.88 664.3V667 M592.62 664.3V667 M587.36 664.3V667 M582.10 664.3V667 M576.84 664.3V667 M571.58 664.3V667 M566.32 664.3V667 M561.06 664.3V667 M555.80 664.3V672.5 M550.54 664.3V667 M545.28 664.3V667 M540.02 664.3V667 M534.76 664.3V667 M529.50 664.3V667 M524.24 664.3V667 M518.98 664.3V667 M513.72 664.3V667 M508.46 664.3V667 M503.20 664.3V672.5 M497.94 664.3V667 M492.68 664.3V667 M487.42 664.3V667 M482.16 664.3V667 M476.90 664.3V667 M471.64 664.3V667 M466.38 664.3V667 M461.12 664.3V667 M455.86 664.3V667 M450.60 664.3V672.5 M445.34 664.3V667 M440.08 664.3V667 M434.82 664.3V667 M429.56 664.3V667 M424.30 664.3V667 M419.04 664.3V667 M413.78 664.3V667 M408.52 664.3V667 M403.26 664.3V667 M398.00 664.3V672.5 M392.74 664.3V667 M387.48 664.3V667 M382.22 664.3V667 M376.96 664.3V667 M371.70 664.3V667 M366.44 664.3V667 M361.18 664.3V667 M355.92 664.3V667 M350.66 664.3V667 M345.40 664.3V672.5 M340.14 664.3V667 M334.88 664.3V667 M329.62 664.3V667 M324.36 664.3V667 M319.10 664.3V667 M313.84 664.3V667 M308.58 664.3V667 M303.32 664.3V667 M298.06 664.3V667 M292.80 664.3V672.5 M287.54 664.3V667 M282.28 664.3V667 M277.02 664.3V667 M271.76 664.3V667 M266.50 664.3V667 M261.24 664.3V667 M255.98 664.3V667 M250.72 664.3V667 M245.46 664.3V667 M240.20 664.3V672.5 M234.94 664.3V667 M229.68 664.3V667 M224.42 664.3V667 M219.16 664.3V667 M213.90 664.3V667 M208.64 664.3V667 M203.38 664.3V667 M198.12 664.3V667 M192.86 664.3V667 M187.60 664.3V672.5 M182.34 664.3V667 M177.08 664.3V667 M171.82 664.3V667 M166.56 664.3V667 M161.30 664.3V667 M156.04 664.3V667 M150.78 664.3V667 M145.52 664.3V667 M140.26 664.3V667 M135.00 664.3V672.5 M129.74 664.3V667 M124.48 664.3V667 M119.22 664.3V667 M113.96 664.3V667 M108.70 664.3V667 M103.44 664.3V667 M98.18 664.3V667 M92.92 664.3V667 M87.66 664.3V667 M82.40 664.3V672.5" fill="none" stroke="#1816bc" stroke-width="1.1"/>
<g class="sans" font-size="17" font-weight="bold" fill="#1816bc" text-anchor="middle">
<text x="766.20" y="691.9">0</text>
<text x="713.60" y="691.9">1</text>
<text x="661.00" y="691.9">2</text>
<text x="608.40" y="691.9">3</text>
<text x="555.80" y="691.9">4</text>
<text x="503.20" y="691.9">5</text>
<text x="450.60" y="691.9">6</text>
<text x="398.00" y="691.9">7</text>
<text x="345.40" y="691.9">8</text>
<text x="292.80" y="691.9">9</text>
<text x="240.20" y="691.9">10</text>
<text x="187.60" y="691.9">11</text>
<text x="135.00" y="691.9">12</text>
<text x="853.3" y="691.1">ppm</text>
</g>
<path d="M426.4 700.4V709.3L419.6 718.1V752.9 M433.1 700.4V709.3L436.2 718.1V752.9 M441.25 700.4V709.3L436.2 718.1V752.9 M449.35 700.4V709.3L453.2 718.1V752.9 M455.1 700.4V709.3L453.2 718.1V752.9 M464.4 700.4V709.3L470.2 718.1V752.9 M540.0 700.4V709.3L534.1 718.1V752.9 M545.2 700.4V709.3L551.1 718.1V752.9 M568.6 700.4V709.3L562.4 718.1V752.9 M573.2 700.4V709.3L579.6 718.1V752.9 M655.8 700.4V709.3L649.7 718.1V752.9 M660.9 700.4V709.3L667.4 718.1V752.9" fill="none" stroke="#cc3333" stroke-width="1"/>
<g class="sans" font-size="13.7" font-weight="bold" fill="#d0102a">
<text transform="translate(433.40,753.2) rotate(-90)">2.000</text>
<text transform="translate(450.20,753.2) rotate(-90)">1.915</text>
<text transform="translate(467.20,753.2) rotate(-90)">2.033</text>
<text transform="translate(548.10,753.2) rotate(-90)">4.031</text>
<text transform="translate(576.50,753.2) rotate(-90)">0.063</text>
<text transform="translate(664.05,753.2) rotate(-90)">2.045</text>
</g>
<polygon points="506.10,368.90 493.50,391.33 468.30,391.33 455.70,368.90 468.30,346.47 493.50,346.47" fill="none" stroke="#7cc243" stroke-width="3.5" stroke-linejoin="round"/>
<path d="M473.6 352.7H488.0M463.9 372.5L470.9 383.9M497.7 373L491.2 383.9" stroke="#7cc243" stroke-width="3.5" stroke-linecap="round"/>
<g class="sans" font-size="100" fill="#000" stroke="#000" stroke-width="0.9">
<text transform="translate(508.88,393.45) scale(0.4470,0.5887)" stroke-width="1.755">M</text>
<text transform="translate(545.55,393.45) scale(0.4045,0.5074)" stroke-width="1.987">o</text>
<text transform="translate(567.48,393.45) scale(0.5006,0.5644)" stroke-width="1.693">l</text>
<text transform="translate(576.71,393.35) scale(0.3589,0.5814)" stroke-width="1.970">B</text>
<text transform="translate(601.28,393.45) scale(0.4156,0.5129)" stroke-width="1.949">e</text>
<text transform="translate(624.55,393.45) scale(0.4312,0.5143)" stroke-width="1.911">s</text>
<text transform="translate(647.14,393.45) scale(0.5326,0.6017)" stroke-width="1.590">t</text>
</g>
<text class="sans" x="447.8" y="425.8" font-size="13.2" fill="#808080">molBest.com,180K+ Chemical Reagents In Stock.</text>
<g fill="none" stroke="#2f48b0" stroke-width="3.5">
<ellipse cx="1009" cy="129.5" rx="64.6" ry="21.3" transform="rotate(33.7 1009 129.5)"/>
<ellipse cx="1009" cy="129.5" rx="64.6" ry="21.3" transform="rotate(-33.7 1009 129.5)"/>
</g>
<circle cx="981.6" cy="90.9" r="4.6" fill="#2f48b0"/><circle cx="981.6" cy="168.5" r="4.6" fill="#2f48b0"/>
<rect x="915" y="116.5" width="185" height="26" fill="#fff"/>
<text class="sans" x="0" y="0" font-size="23.4" font-weight="bold" letter-spacing="1.0" fill="#111" stroke="#111" stroke-width="2.3" transform="translate(925.0,137.9) scale(1.56,1)">BRUKER</text>
<g class="mono pre" font-size="12.38" fill="#686868">
<text transform="translate(931.3,222.10) scale(1,0.87)" xml:space="preserve">Current Data Parameters</text>
<text transform="translate(931.3,234.44) scale(1,0.87)" xml:space="preserve">NAME     24493-53-6P3106051</text>
<text transform="translate(931.3,246.78) scale(1,0.87)" xml:space="preserve">EXPNO                 1</text>
<text transform="translate(931.3,259.12) scale(1,0.87)" xml:space="preserve">PROCNO                1</text>
<text transform="translate(931.3,283.80) scale(1,0.87)" xml:space="preserve">F2 - Acquisition Parameters</text>
<text transform="translate(931.3,296.14) scale(1,0.87)" xml:space="preserve">Date_          20240703</text>
<text transform="translate(931.3,308.48) scale(1,0.87)" xml:space="preserve">Time              10.01 h</text>
<text transform="translate(931.3,320.82) scale(1,0.87)" xml:space="preserve">INSTRUM          Avance</text>
<text transform="translate(931.3,333.16) scale(1,0.87)" xml:space="preserve">PROBHD   Z154705_0134 (</text>
<text transform="translate(931.3,345.50) scale(1,0.87)" xml:space="preserve">PULPROG            zg30</text>
<text transform="translate(931.3,357.84) scale(1,0.87)" xml:space="preserve">TD                65536</text>
<text transform="translate(931.3,370.18) scale(1,0.87)" xml:space="preserve">SOLVENT           CDCl3</text>
<text transform="translate(931.3,382.52) scale(1,0.87)" xml:space="preserve">NS                    4</text>
<text transform="translate(931.3,394.86) scale(1,0.87)" xml:space="preserve">DS                    0</text>
<text transform="translate(931.3,407.20) scale(1,0.87)" xml:space="preserve">SWH           11904.762 Hz</text>
<text transform="translate(931.3,419.54) scale(1,0.87)" xml:space="preserve">FIDRES         0.363304 Hz</text>
<text transform="translate(931.3,431.88) scale(1,0.87)" xml:space="preserve">AQ            2.7525120 sec</text>
<text transform="translate(931.3,444.22) scale(1,0.87)" xml:space="preserve">RG                   32</text>
<text transform="translate(931.3,456.56) scale(1,0.87)" xml:space="preserve">DW               42.000 usec</text>
<text transform="translate(931.3,468.90) scale(1,0.87)" xml:space="preserve">DE                 8.79 usec</text>
<text transform="translate(931.3,481.24) scale(1,0.87)" xml:space="preserve">TE                294.8 K</text>
<text transform="translate(931.3,493.58) scale(1,0.87)" xml:space="preserve">D1           1.00000000 sec</text>
<text transform="translate(931.3,505.92) scale(1,0.87)" xml:space="preserve">TD0                   1</text>
<text transform="translate(931.3,518.26) scale(1,0.87)" xml:space="preserve">SFO1        600.1537059 MHz</text>
<text transform="translate(931.3,530.60) scale(1,0.87)" xml:space="preserve">NUC1                 1H</text>
<text transform="translate(931.3,542.94) scale(1,0.87)" xml:space="preserve">P0                 3.33 usec</text>
<text transform="translate(931.3,555.28) scale(1,0.87)" xml:space="preserve">P1                10.00 usec</text>
<text transform="translate(931.3,567.62) scale(1,0.87)" xml:space="preserve">PLW1        21.87999916 W</text>
<text transform="translate(931.3,592.30) scale(1,0.87)" xml:space="preserve">F2 - Processing parameters</text>
<text transform="translate(931.3,604.64) scale(1,0.87)" xml:space="preserve">SI                65536</text>
<text transform="translate(931.3,616.98) scale(1,0.87)" xml:space="preserve">SF          600.1500019 MHz</text>
<text transform="translate(931.3,629.32) scale(1,0.87)" xml:space="preserve">WDW                  EM</text>
<text transform="translate(931.3,641.66) scale(1,0.87)" xml:space="preserve">SSB                   0</text>
<text transform="translate(931.3,654.00) scale(1,0.87)" xml:space="preserve">LB                 0.30 Hz</text>
<text transform="translate(931.3,666.34) scale(1,0.87)" xml:space="preserve">GB                    0</text>
<text transform="translate(931.3,678.68) scale(1,0.87)" xml:space="preserve">PC                 1.00</text>
</g>
</svg></body></html>
